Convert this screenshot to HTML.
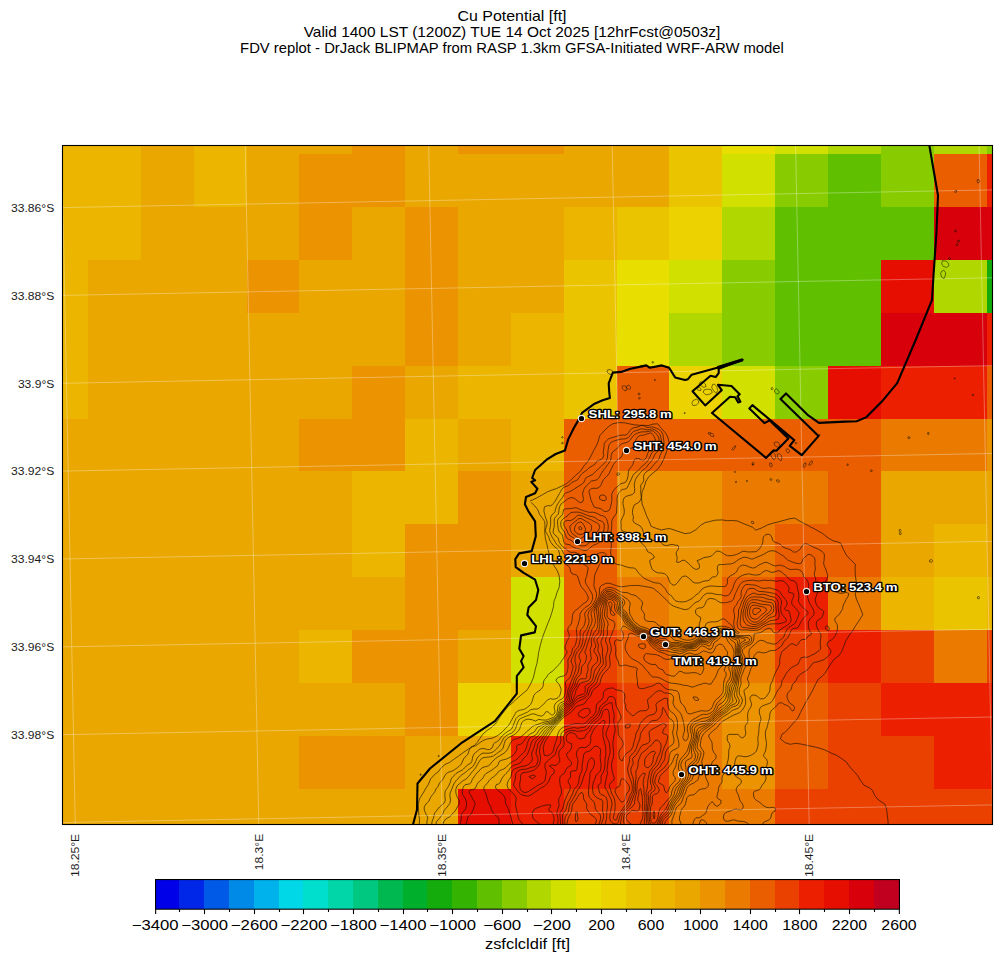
<!DOCTYPE html>
<html lang="en"><head><meta charset="utf-8"><title>Cu Potential [ft]</title>
<style>html,body{margin:0;padding:0;background:#fff}svg{display:block}text{font-family:"Liberation Sans",sans-serif}</style></head><body>
<svg width="1001" height="962" viewBox="0 0 1001 962">
<rect width="1001" height="962" fill="#fff"/>
<g shape-rendering="crispEdges">
<rect x="62.50" y="145.50" width="78.90" height="8.90" fill="#ebb500"/>
<rect x="141.00" y="145.50" width="53.40" height="8.90" fill="#e9a700"/>
<rect x="194.00" y="145.50" width="53.40" height="8.90" fill="#ebb500"/>
<rect x="247.00" y="145.50" width="105.40" height="8.90" fill="#e9a700"/>
<rect x="352.00" y="145.50" width="53.40" height="8.90" fill="#eb9300"/>
<rect x="405.00" y="145.50" width="53.40" height="8.90" fill="#e9a700"/>
<rect x="458.00" y="145.50" width="106.40" height="8.90" fill="#eb9300"/>
<rect x="564.00" y="145.50" width="105.40" height="8.90" fill="#e9a700"/>
<rect x="669.00" y="145.50" width="53.40" height="8.90" fill="#ebc400"/>
<rect x="722.00" y="145.50" width="53.40" height="8.90" fill="#e8de00"/>
<rect x="775.00" y="145.50" width="53.40" height="8.90" fill="#d2e000"/>
<rect x="828.00" y="145.50" width="53.40" height="8.90" fill="#b0d800"/>
<rect x="881.00" y="145.50" width="53.40" height="8.90" fill="#88cc00"/>
<rect x="934.00" y="145.50" width="53.40" height="8.90" fill="#b0d800"/>
<rect x="987.00" y="145.50" width="5.90" height="8.90" fill="#88cc00"/>
<rect x="62.50" y="154.00" width="78.90" height="53.40" fill="#ebb500"/>
<rect x="141.00" y="154.00" width="53.40" height="53.40" fill="#e9a700"/>
<rect x="194.00" y="154.00" width="53.40" height="53.40" fill="#ebb500"/>
<rect x="247.00" y="154.00" width="52.40" height="53.40" fill="#e9a700"/>
<rect x="299.00" y="154.00" width="106.40" height="53.40" fill="#eb9300"/>
<rect x="405.00" y="154.00" width="264.40" height="53.40" fill="#e9a700"/>
<rect x="669.00" y="154.00" width="53.40" height="53.40" fill="#ebc400"/>
<rect x="722.00" y="154.00" width="53.40" height="53.40" fill="#d2e000"/>
<rect x="775.00" y="154.00" width="53.40" height="53.40" fill="#88cc00"/>
<rect x="828.00" y="154.00" width="53.40" height="53.40" fill="#60c000"/>
<rect x="881.00" y="154.00" width="53.40" height="53.40" fill="#88cc00"/>
<rect x="934.00" y="154.00" width="53.40" height="53.40" fill="#eb5e00"/>
<rect x="987.00" y="154.00" width="5.90" height="53.40" fill="#ec2000"/>
<rect x="62.50" y="207.00" width="78.90" height="53.40" fill="#ebb500"/>
<rect x="141.00" y="207.00" width="158.40" height="53.40" fill="#e9a700"/>
<rect x="299.00" y="207.00" width="53.40" height="53.40" fill="#eb9300"/>
<rect x="352.00" y="207.00" width="53.40" height="53.40" fill="#e9a700"/>
<rect x="405.00" y="207.00" width="53.40" height="53.40" fill="#eb9300"/>
<rect x="458.00" y="207.00" width="106.40" height="53.40" fill="#e9a700"/>
<rect x="564.00" y="207.00" width="53.40" height="53.40" fill="#ebb500"/>
<rect x="617.00" y="207.00" width="52.40" height="53.40" fill="#ebc400"/>
<rect x="669.00" y="207.00" width="53.40" height="53.40" fill="#ecd200"/>
<rect x="722.00" y="207.00" width="53.40" height="53.40" fill="#b0d800"/>
<rect x="775.00" y="207.00" width="159.40" height="53.40" fill="#60c000"/>
<rect x="934.00" y="207.00" width="58.90" height="53.40" fill="#d8000a"/>
<rect x="62.50" y="260.00" width="25.90" height="53.40" fill="#ebb500"/>
<rect x="88.00" y="260.00" width="159.40" height="53.40" fill="#e9a700"/>
<rect x="247.00" y="260.00" width="52.40" height="53.40" fill="#eb9300"/>
<rect x="299.00" y="260.00" width="106.40" height="53.40" fill="#e9a700"/>
<rect x="405.00" y="260.00" width="53.40" height="53.40" fill="#eb9300"/>
<rect x="458.00" y="260.00" width="106.40" height="53.40" fill="#e9a700"/>
<rect x="564.00" y="260.00" width="53.40" height="53.40" fill="#ebc400"/>
<rect x="617.00" y="260.00" width="52.40" height="53.40" fill="#e8de00"/>
<rect x="669.00" y="260.00" width="53.40" height="53.40" fill="#d2e000"/>
<rect x="722.00" y="260.00" width="53.40" height="53.40" fill="#88cc00"/>
<rect x="775.00" y="260.00" width="106.40" height="53.40" fill="#60c000"/>
<rect x="881.00" y="260.00" width="53.40" height="53.40" fill="#e60e00"/>
<rect x="934.00" y="260.00" width="53.40" height="53.40" fill="#b0d800"/>
<rect x="987.00" y="260.00" width="5.90" height="53.40" fill="#14ac0c"/>
<rect x="62.50" y="313.00" width="25.90" height="53.40" fill="#ebb500"/>
<rect x="88.00" y="313.00" width="317.40" height="53.40" fill="#e9a700"/>
<rect x="405.00" y="313.00" width="53.40" height="53.40" fill="#eb9300"/>
<rect x="458.00" y="313.00" width="53.40" height="53.40" fill="#e9a700"/>
<rect x="511.00" y="313.00" width="53.40" height="53.40" fill="#ebb500"/>
<rect x="564.00" y="313.00" width="53.40" height="53.40" fill="#ebc400"/>
<rect x="617.00" y="313.00" width="52.40" height="53.40" fill="#e8de00"/>
<rect x="669.00" y="313.00" width="53.40" height="53.40" fill="#b0d800"/>
<rect x="722.00" y="313.00" width="53.40" height="53.40" fill="#88cc00"/>
<rect x="775.00" y="313.00" width="106.40" height="53.40" fill="#60c000"/>
<rect x="881.00" y="313.00" width="106.40" height="53.40" fill="#d8000a"/>
<rect x="987.00" y="313.00" width="5.90" height="53.40" fill="#ec2000"/>
<rect x="62.50" y="366.00" width="25.90" height="53.40" fill="#ebb500"/>
<rect x="88.00" y="366.00" width="264.40" height="53.40" fill="#e9a700"/>
<rect x="352.00" y="366.00" width="53.40" height="53.40" fill="#eb9300"/>
<rect x="405.00" y="366.00" width="53.40" height="53.40" fill="#e9a700"/>
<rect x="458.00" y="366.00" width="106.40" height="53.40" fill="#ebb500"/>
<rect x="564.00" y="366.00" width="53.40" height="53.40" fill="#ebc400"/>
<rect x="617.00" y="366.00" width="52.40" height="53.40" fill="#eb5e00"/>
<rect x="669.00" y="366.00" width="53.40" height="53.40" fill="#ecd200"/>
<rect x="722.00" y="366.00" width="53.40" height="53.40" fill="#d2e000"/>
<rect x="775.00" y="366.00" width="53.40" height="53.40" fill="#88cc00"/>
<rect x="828.00" y="366.00" width="53.40" height="53.40" fill="#e60e00"/>
<rect x="881.00" y="366.00" width="106.40" height="53.40" fill="#ec2000"/>
<rect x="987.00" y="366.00" width="5.90" height="53.40" fill="#eb5e00"/>
<rect x="62.50" y="419.00" width="236.90" height="52.40" fill="#e9a700"/>
<rect x="299.00" y="419.00" width="106.40" height="52.40" fill="#eb9300"/>
<rect x="405.00" y="419.00" width="53.40" height="52.40" fill="#ebb500"/>
<rect x="458.00" y="419.00" width="53.40" height="52.40" fill="#e9a700"/>
<rect x="511.00" y="419.00" width="53.40" height="52.40" fill="#ebb500"/>
<rect x="564.00" y="419.00" width="317.40" height="52.40" fill="#eb5e00"/>
<rect x="881.00" y="419.00" width="106.40" height="52.40" fill="#ea7b00"/>
<rect x="987.00" y="419.00" width="5.90" height="52.40" fill="#eb9300"/>
<rect x="62.50" y="471.00" width="289.90" height="53.40" fill="#e9a700"/>
<rect x="352.00" y="471.00" width="106.40" height="53.40" fill="#ebb500"/>
<rect x="458.00" y="471.00" width="53.40" height="53.40" fill="#eb9300"/>
<rect x="511.00" y="471.00" width="53.40" height="53.40" fill="#e9a700"/>
<rect x="564.00" y="471.00" width="53.40" height="53.40" fill="#eb5e00"/>
<rect x="617.00" y="471.00" width="105.40" height="53.40" fill="#eb9300"/>
<rect x="722.00" y="471.00" width="106.40" height="53.40" fill="#ea7b00"/>
<rect x="828.00" y="471.00" width="53.40" height="53.40" fill="#eb5e00"/>
<rect x="881.00" y="471.00" width="111.90" height="53.40" fill="#e9a700"/>
<rect x="62.50" y="524.00" width="289.90" height="53.40" fill="#e9a700"/>
<rect x="352.00" y="524.00" width="53.40" height="53.40" fill="#ebb500"/>
<rect x="405.00" y="524.00" width="106.40" height="53.40" fill="#eb9300"/>
<rect x="511.00" y="524.00" width="53.40" height="53.40" fill="#e9a700"/>
<rect x="564.00" y="524.00" width="53.40" height="53.40" fill="#eb5e00"/>
<rect x="617.00" y="524.00" width="105.40" height="53.40" fill="#eb9300"/>
<rect x="722.00" y="524.00" width="53.40" height="53.40" fill="#ea7b00"/>
<rect x="775.00" y="524.00" width="106.40" height="53.40" fill="#eb5e00"/>
<rect x="881.00" y="524.00" width="53.40" height="53.40" fill="#e9a700"/>
<rect x="934.00" y="524.00" width="53.40" height="53.40" fill="#ebb500"/>
<rect x="987.00" y="524.00" width="5.90" height="53.40" fill="#e9a700"/>
<rect x="62.50" y="577.00" width="342.90" height="53.40" fill="#e9a700"/>
<rect x="405.00" y="577.00" width="106.40" height="53.40" fill="#eb9300"/>
<rect x="511.00" y="577.00" width="53.40" height="53.40" fill="#d2e000"/>
<rect x="564.00" y="577.00" width="53.40" height="53.40" fill="#eb5e00"/>
<rect x="617.00" y="577.00" width="52.40" height="53.40" fill="#ea7b00"/>
<rect x="669.00" y="577.00" width="53.40" height="53.40" fill="#eb9300"/>
<rect x="722.00" y="577.00" width="53.40" height="53.40" fill="#eb5e00"/>
<rect x="775.00" y="577.00" width="53.40" height="53.40" fill="#ec2000"/>
<rect x="828.00" y="577.00" width="53.40" height="53.40" fill="#ea7b00"/>
<rect x="881.00" y="577.00" width="53.40" height="53.40" fill="#ebb500"/>
<rect x="934.00" y="577.00" width="53.40" height="53.40" fill="#ebc400"/>
<rect x="987.00" y="577.00" width="5.90" height="53.40" fill="#ebb500"/>
<rect x="62.50" y="630.00" width="236.90" height="53.40" fill="#e9a700"/>
<rect x="299.00" y="630.00" width="53.40" height="53.40" fill="#ebb500"/>
<rect x="352.00" y="630.00" width="106.40" height="53.40" fill="#eb9300"/>
<rect x="458.00" y="630.00" width="53.40" height="53.40" fill="#e9a700"/>
<rect x="511.00" y="630.00" width="53.40" height="53.40" fill="#d2e000"/>
<rect x="564.00" y="630.00" width="53.40" height="53.40" fill="#ea4000"/>
<rect x="617.00" y="630.00" width="52.40" height="53.40" fill="#eb5e00"/>
<rect x="669.00" y="630.00" width="106.40" height="53.40" fill="#ea7b00"/>
<rect x="775.00" y="630.00" width="53.40" height="53.40" fill="#ea4000"/>
<rect x="828.00" y="630.00" width="53.40" height="53.40" fill="#ec2000"/>
<rect x="881.00" y="630.00" width="53.40" height="53.40" fill="#ea4000"/>
<rect x="934.00" y="630.00" width="53.40" height="53.40" fill="#ea7b00"/>
<rect x="987.00" y="630.00" width="5.90" height="53.40" fill="#ea4000"/>
<rect x="62.50" y="683.00" width="342.90" height="53.40" fill="#e9a700"/>
<rect x="405.00" y="683.00" width="53.40" height="53.40" fill="#eb9300"/>
<rect x="458.00" y="683.00" width="53.40" height="53.40" fill="#ecd200"/>
<rect x="511.00" y="683.00" width="53.40" height="53.40" fill="#ebc400"/>
<rect x="564.00" y="683.00" width="53.40" height="53.40" fill="#ec2000"/>
<rect x="617.00" y="683.00" width="52.40" height="53.40" fill="#ea4000"/>
<rect x="669.00" y="683.00" width="53.40" height="53.40" fill="#ea7b00"/>
<rect x="722.00" y="683.00" width="53.40" height="53.40" fill="#eb9300"/>
<rect x="775.00" y="683.00" width="53.40" height="53.40" fill="#eb5e00"/>
<rect x="828.00" y="683.00" width="53.40" height="53.40" fill="#ea4000"/>
<rect x="881.00" y="683.00" width="111.90" height="53.40" fill="#ec2000"/>
<rect x="62.50" y="736.00" width="236.90" height="53.40" fill="#e9a700"/>
<rect x="299.00" y="736.00" width="106.40" height="53.40" fill="#eb9300"/>
<rect x="405.00" y="736.00" width="106.40" height="53.40" fill="#e9a700"/>
<rect x="511.00" y="736.00" width="106.40" height="53.40" fill="#ec2000"/>
<rect x="617.00" y="736.00" width="52.40" height="53.40" fill="#ea4000"/>
<rect x="669.00" y="736.00" width="53.40" height="53.40" fill="#ea7b00"/>
<rect x="722.00" y="736.00" width="53.40" height="53.40" fill="#eb9300"/>
<rect x="775.00" y="736.00" width="53.40" height="53.40" fill="#eb5e00"/>
<rect x="828.00" y="736.00" width="106.40" height="53.40" fill="#ea4000"/>
<rect x="934.00" y="736.00" width="58.90" height="53.40" fill="#ec2000"/>
<rect x="62.50" y="789.00" width="395.90" height="35.90" fill="#e9a700"/>
<rect x="458.00" y="789.00" width="53.40" height="35.90" fill="#e60e00"/>
<rect x="511.00" y="789.00" width="53.40" height="35.90" fill="#ec2000"/>
<rect x="564.00" y="789.00" width="105.40" height="35.90" fill="#ea4000"/>
<rect x="669.00" y="789.00" width="106.40" height="35.90" fill="#ea7b00"/>
<rect x="775.00" y="789.00" width="217.90" height="35.90" fill="#ea4000"/>
</g>
<defs><clipPath id="axclip"><rect x="62.5" y="145.5" width="930.0" height="679.0"/></clipPath></defs>
<g clip-path="url(#axclip)" fill="none" stroke="#140c00" stroke-opacity="0.85" stroke-width="0.75" stroke-linejoin="round"><path d="M529.9,501.1 536.4,498.1 542.5,494.7 547.3,491.9 551.6,490.2 556.4,488.6 561.9,486.0 566.2,483.8 570.4,480.5 575.3,475.7 580.5,471.2 584.1,465.8 588.3,460.9 591.4,455.1 594.2,449.6 596.2,446.1 598.0,441.9 599.8,435.7 604.3,430.7 608.2,426.9 612.7,423.8 618.6,422.6 624.7,422.8 629.6,423.9 634.9,424.9 639.3,425.3 644.2,425.3 648.1,425.7 652.8,424.1 657.6,423.8 661.6,428.6 665.5,432.9 667.7,436.8 669.1,442.4 667.8,447.6 666.1,452.9 663.8,458.9 660.9,464.8 657.2,469.7 653.1,472.9 648.9,476.5 645.9,481.3 644.1,487.4 642.1,491.7 641.5,497.6 642.1,504.0 644.3,509.4 646.2,514.9 649.0,520.9 651.2,526.4 656.1,528.3 661.2,530.0 666.2,528.9 669.9,528.6 673.9,529.9 679.4,531.8 684.9,533.6 690.4,532.9 696.0,529.7 700.5,525.4 704.9,522.7 709.3,521.6 715.1,520.2 722.1,519.9 727.3,520.7 732.5,520.5 737.2,520.9 743.2,523.5 749.1,525.8 752.7,527.4 755.8,530.1 761.1,528.2 767.3,525.0 772.4,523.3 778.4,521.9 784.8,520.1 789.8,518.7 794.8,518.1 800.1,521.3 804.7,523.7 808.8,526.0 813.9,528.6 817.9,530.8 822.6,533.5 828.2,538.0 833.5,541.0 837.2,541.7 840.7,543.2 843.3,549.4 846.6,555.5 851.2,560.3 855.3,564.3 855.1,569.4 855.3,575.2 855.9,579.5 856.8,584.3 856.4,589.3 855.2,594.0 856.4,599.1 858.4,603.6 860.4,608.4 862.8,614.7 859.4,620.2 855.5,625.8 852.8,630.5 849.4,634.9 845.9,640.7 843.8,646.2 841.6,651.7 838.7,655.8 834.6,658.8 831.2,663.2 828.3,667.8 824.9,673.4 821.7,676.7 818.3,679.1 815.5,684.3 812.6,690.4 809.5,695.9 806.4,701.1 803.4,706.8 800.5,712.4 797.7,718.6 793.7,722.5 791.0,725.8 788.2,729.2 784.5,732.7 782.0,734.2 780.4,738.8 785.1,742.6 790.0,744.3 796.2,743.3 801.1,744.1 805.7,745.0 811.1,746.2 815.9,747.2 820.1,748.3 824.5,749.8 828.4,751.6 832.2,753.6 836.5,755.2 840.6,757.9 846.3,761.9 850.1,767.2 853.7,771.2 857.4,775.2 860.5,780.4 863.9,785.1 869.1,787.6 872.6,790.5 874.7,795.4 878.5,800.0 884.8,804.1 886.6,809.3 887.3,815.2 888.0,820.8 888.2,825.8"/>
<path d="M419.7,829.8 419.3,823.8 419.5,819.4 418.9,815.3 418.5,809.9 418.3,803.6 419.7,798.5 423.2,792.9 426.1,787.9 428.4,784.3 430.7,778.8 434.6,774.5 438.7,771.4 441.3,767.7 445.2,764.4 449.8,762.3 453.7,759.4 458.6,756.0 463.7,752.2 468.8,748.8 474.1,745.8 477.3,742.2 479.8,738.6 482.7,734.3 486.9,730.6 491.1,727.7 495.2,724.2 497.9,720.1 500.7,715.9 504.4,711.1 507.6,706.9 511.0,704.1 514.8,700.6 518.8,697.0 523.0,693.4 527.4,689.7 530.6,684.0 533.3,677.9 534.5,673.1 535.4,668.7 536.9,663.7 537.9,657.6 538.6,652.7 539.3,649.7 540.3,645.3 541.7,640.2 543.4,634.9 545.6,629.3 547.9,623.3 550.2,617.7 551.8,612.7 553.5,606.5 553.9,601.4 555.7,597.1 556.8,592.9 559.0,587.8 559.8,581.6 559.1,575.4 557.1,570.4 553.4,564.7 550.5,558.4 548.9,553.2 547.7,548.2 546.8,543.9 545.3,538.2 544.7,531.5 545.0,526.2 544.7,521.5 542.4,518.2 539.6,514.4 537.7,509.6 534.8,506.0 531.2,502.5"/>
<path d="M582.0,473.5 584.1,472.0 586.3,470.5 587.8,469.0 589.4,467.5 591.0,466.7 592.5,465.8 594.6,464.5 595.7,463.0 597.0,461.0 599.8,460.0 601.5,459.1 603.0,457.7 603.8,455.5 603.2,452.5 603.7,449.5 604.0,446.5 604.3,443.5 605.3,442.0 606.7,440.5 608.4,439.0 610.5,438.1 612.6,437.5 615.0,436.8 617.5,436.0 619.5,435.4 622.5,435.0 625.5,435.1 627.0,434.5 628.5,432.6 630.0,430.3 631.5,428.9 633.0,428.0 636.0,427.3 637.9,427.0 640.5,425.8 642.0,425.4 643.5,425.7 645.9,427.0 648.0,427.6 650.9,427.0 652.5,426.9 654.0,427.3 656.9,428.5 658.5,429.2 660.0,430.2 661.5,431.6 662.9,434.5 663.1,436.0 663.6,439.0 664.0,442.0 663.9,445.0 663.4,448.0 662.8,449.5 661.5,452.5 660.7,454.0 660.0,455.5 659.2,458.5 658.4,460.0 656.8,461.5 655.2,463.0 654.0,464.5 652.5,466.3 651.0,468.3 649.5,469.7 648.0,470.7 646.0,472.0 644.7,473.5 643.5,476.3 643.5,476.7 643.8,479.5 643.5,481.4 642.0,483.4 640.6,485.5 640.9,488.5 640.6,491.5 641.0,494.5 641.3,497.5 640.5,500.0 639.2,502.0 637.5,503.2 636.0,503.9 634.2,505.0 633.2,508.0 632.7,509.5 632.4,512.5 633.0,515.5 633.5,517.0 633.0,519.5 633.0,520.8 634.5,523.0 636.0,523.8 637.5,524.5 640.3,526.0 641.4,527.5 642.3,529.0 643.4,532.0 643.8,533.5 645.0,536.4 646.2,538.0 647.7,539.5 649.5,540.4 652.5,540.5 655.5,540.1 658.5,540.5 660.0,541.3 661.5,543.1 663.0,544.5 665.6,545.5 666.7,545.5 669.0,545.0 672.0,544.4 675.0,545.1 678.0,545.5 678.8,547.0 678.0,549.9 676.6,551.5 676.1,553.0 676.5,555.1 677.2,557.5 676.9,560.5 676.5,562.0 678.0,562.4 679.6,562.0 682.0,560.5 684.0,560.1 685.5,561.0 687.0,562.2 688.5,563.5 690.2,565.0 691.6,566.5 693.0,568.0 696.0,569.5 699.0,568.5 699.5,566.5 699.0,563.8 697.8,562.0 697.2,560.5 699.0,560.0 701.0,559.0 703.5,557.8 705.0,557.4 708.0,557.0 711.0,556.2 712.5,555.2 714.0,553.7 715.5,551.9 717.0,551.0 719.8,551.5 721.5,552.3 723.0,553.3 724.8,554.5 727.5,555.7 730.5,555.7 733.5,555.3 736.4,554.5 738.0,553.8 739.6,553.0 742.2,551.5 744.0,551.2 745.5,551.5 748.5,552.0 751.5,551.8 754.5,551.8 756.2,551.5 758.3,550.0 759.6,548.5 760.6,547.0 762.0,544.7 762.8,542.5 762.9,539.5 763.5,536.8 765.0,535.2 766.5,534.4 769.5,534.4 771.0,535.6 772.0,538.0 772.5,540.0 774.0,541.8 775.5,542.5 778.5,543.3 780.0,544.1 781.5,545.6 783.0,547.0 786.0,548.4 787.5,548.7 790.5,549.8 792.0,550.9 793.5,552.1 796.5,551.9 798.0,550.8 799.5,549.8 801.0,548.0 802.2,545.5 804.0,544.0 805.5,543.8 807.1,544.0 810.0,545.3 811.5,546.1 813.1,547.0 816.0,548.2 817.5,548.8 819.9,550.0 822.0,551.5 823.5,552.9 824.4,554.5 824.3,557.5 824.0,560.5 823.6,563.5 824.5,566.5 825.3,568.0 826.4,571.0 826.8,572.5 827.7,575.5 827.2,578.5 826.2,580.0 825.4,583.0 826.3,586.0 828.0,587.4 829.5,588.0 831.5,589.0 833.8,590.5 835.5,591.4 837.0,592.2 840.0,593.3 843.0,593.2 846.0,592.3 848.8,593.5 848.0,596.5 847.0,598.0 846.0,599.6 844.7,602.5 843.7,604.0 843.0,606.2 842.7,608.5 841.5,610.8 840.1,613.0 839.1,614.5 837.6,616.0 835.7,617.5 834.6,619.0 835.4,622.0 836.6,623.5 837.3,625.0 837.5,628.0 837.1,631.0 836.7,632.5 835.5,635.3 834.4,637.0 833.1,638.5 831.3,640.0 829.5,641.0 828.0,642.0 827.0,644.5 828.0,646.5 829.5,648.4 830.8,650.5 831.0,652.0 830.5,653.5 829.3,655.0 827.8,656.5 826.1,658.0 824.0,659.5 822.0,660.4 820.3,661.0 817.5,661.8 814.5,662.4 813.0,663.1 811.5,664.9 810.0,667.0 808.7,668.5 807.1,670.0 805.5,671.1 804.0,672.0 802.3,673.0 800.2,674.5 798.5,676.0 797.4,677.5 796.5,679.8 795.0,681.9 793.5,683.3 792.2,685.0 791.9,686.5 791.0,689.5 789.7,691.0 788.2,692.5 787.3,694.0 787.0,697.0 787.5,698.7 788.7,701.5 789.7,703.0 791.9,704.5 793.5,705.5 794.5,707.5 793.8,710.5 792.0,710.8 790.6,709.0 789.8,707.5 788.4,706.0 786.0,705.0 784.3,704.5 782.1,703.0 780.0,702.7 778.5,703.4 777.0,705.3 775.5,707.0 774.0,708.3 772.5,709.4 771.0,711.0 769.9,713.5 769.7,716.5 769.5,718.1 768.7,721.0 768.0,723.2 767.6,725.5 766.7,728.5 765.9,730.0 765.3,733.0 765.5,736.0 765.8,739.0 766.4,742.0 766.5,743.5 766.4,745.0 766.0,748.0 765.5,751.0 764.8,752.5 763.5,755.2 763.5,755.9 765.0,757.8 766.5,759.1 767.4,761.5 767.1,764.5 766.5,766.6 765.9,769.0 765.5,772.0 765.6,775.0 766.1,778.0 765.3,781.0 764.4,782.5 763.1,784.0 761.9,785.5 760.5,788.2 759.0,789.8 757.5,790.4 754.5,791.1 753.4,793.0 753.6,796.0 754.5,798.5 756.0,800.1 757.5,801.0 759.2,802.0 761.1,803.5 762.7,805.0 764.7,806.5 766.5,807.3 769.5,807.8 772.5,807.3 775.0,808.0 775.6,809.5 775.1,811.0 772.5,812.4 771.6,814.0 771.0,817.0 770.4,818.5 768.9,820.0 766.5,821.0 765.0,821.5 763.0,823.0 762.5,826.0 763.0,829.0 M428.0,830.5 427.7,827.5 427.4,826.0 426.8,823.0 427.2,820.0 427.6,818.5 427.5,816.8 426.0,814.2 425.3,812.5 424.5,810.7 424.1,808.0 424.5,806.4 426.0,803.9 427.5,802.6 429.0,801.0 429.9,799.0 430.5,797.5 432.0,795.3 433.5,793.6 434.9,791.5 435.5,790.0 436.5,788.1 438.0,786.7 439.0,784.0 440.0,782.5 441.5,781.0 442.7,779.5 444.0,777.2 445.3,775.0 446.4,773.5 448.5,772.2 450.0,771.8 453.0,770.7 454.5,769.7 456.0,768.7 457.6,767.5 459.5,766.0 460.9,764.5 462.0,762.5 463.2,760.0 463.8,758.5 465.1,757.0 466.8,755.5 468.0,754.0 468.9,751.0 469.5,749.2 471.0,747.0 472.5,746.3 475.5,745.9 477.0,744.8 478.7,743.5 480.8,742.0 483.0,740.6 484.5,739.9 487.3,739.0 489.0,738.7 492.0,738.2 493.8,737.5 496.5,736.2 498.0,735.3 499.5,734.2 501.0,733.0 502.7,731.5 504.1,730.0 505.5,728.5 507.0,727.0 508.5,725.5 510.0,723.2 511.0,721.0 511.9,719.5 513.0,717.7 514.5,715.0 515.3,713.5 516.2,712.0 518.8,710.5 520.5,710.1 523.5,709.5 525.0,709.0 527.1,707.5 529.0,706.0 530.5,704.5 531.4,703.0 532.5,700.3 532.9,698.5 533.8,695.5 534.8,694.0 536.5,692.5 538.5,691.2 540.0,690.1 541.5,688.9 543.0,686.6 543.3,685.0 543.4,682.0 544.5,679.5 546.0,678.0 547.3,676.0 548.2,674.5 549.7,673.0 552.0,671.5 553.5,670.3 555.0,668.7 556.5,667.0 557.9,665.5 559.5,664.1 560.7,662.5 561.4,661.0 562.6,659.5 564.0,657.3 565.5,655.1 566.7,653.5 567.1,652.0 566.4,650.5 565.2,649.0 565.1,646.0 565.9,644.5 566.7,641.5 567.5,640.0 568.6,638.5 569.4,635.5 568.6,632.5 567.8,631.0 567.9,628.0 569.0,626.5 570.4,625.0 571.5,623.2 572.1,620.5 572.3,617.5 572.7,614.5 573.3,613.0 574.5,611.3 576.0,610.0 578.1,608.5 579.8,607.0 581.2,605.5 582.9,604.0 585.0,602.7 586.5,601.7 588.0,599.6 588.2,598.0 588.0,596.5 586.5,593.5 585.6,592.0 584.5,590.5 583.2,589.0 581.8,587.5 580.5,585.3 579.7,583.0 579.0,580.8 578.3,578.5 577.5,576.0 576.0,574.9 573.0,574.1 571.5,573.3 570.4,571.0 570.0,568.2 569.0,566.5 567.0,565.2 565.5,564.0 564.0,562.2 562.7,560.5 561.5,559.0 560.5,557.5 559.5,554.8 559.3,553.0 558.5,550.0 556.9,548.5 555.0,547.1 553.5,545.7 552.1,544.0 551.1,542.5 550.1,541.0 549.0,538.2 548.5,536.5 547.5,534.7 546.0,532.4 545.4,530.5 546.0,527.7 546.6,526.0 547.3,523.0 546.6,520.0 545.8,518.5 545.0,515.5 544.5,513.5 543.9,511.0 544.2,508.0 544.9,506.5 547.5,505.7 550.5,505.8 552.0,504.9 553.5,503.4 555.0,501.3 556.4,499.0 557.2,497.5 558.0,496.0 559.5,493.4 560.6,491.5 561.5,490.0 562.5,488.5 564.2,487.0 567.0,486.2 568.5,485.5 570.3,484.0 571.9,482.5 574.5,481.2 576.0,480.7 577.7,479.5 579.0,477.6 580.5,475.2 581.7,473.8 M794.0,830.5 794.9,829.0 795.0,828.9 796.5,828.6 797.1,829.0 798.0,830.5 798.0,830.5 M820.0,830.5 820.2,827.5 822.0,826.6 825.0,826.3 826.5,825.5 829.5,824.8 832.5,825.2 834.0,826.0 835.5,828.2 836.1,830.5 M825.7,626.5 826.5,625.7 828.0,626.2 828.3,626.5 829.1,628.0 829.3,629.5 828.0,630.7 826.5,630.1 826.0,629.5 825.6,628.0 825.7,626.5 M432.4,830.5 432.1,827.5 431.9,826.0 431.8,823.0 432.1,821.5 433.2,818.5 433.7,817.0 434.4,814.0 435.0,812.5 436.5,810.7 438.0,808.8 439.5,807.0 441.0,805.7 442.5,804.5 444.0,803.2 445.3,800.5 445.1,797.5 444.8,794.5 445.2,791.5 445.9,790.0 447.1,788.5 448.5,786.2 449.5,784.0 450.2,782.5 451.0,779.5 451.8,778.0 453.3,776.5 454.5,775.0 456.0,773.5 458.5,772.0 460.5,771.0 462.0,770.2 463.5,769.0 465.0,767.4 466.5,765.8 468.4,764.5 470.9,763.0 471.8,761.5 472.4,758.5 472.6,757.0 474.0,754.0 475.5,752.5 477.0,751.4 478.5,750.1 480.0,749.0 483.0,748.4 486.0,749.1 487.5,749.6 489.7,749.5 492.0,748.0 492.7,746.5 493.5,743.9 495.0,742.6 496.5,741.9 498.5,740.5 499.8,739.0 501.0,737.3 502.5,735.6 504.0,734.3 505.5,733.0 507.7,731.5 510.0,730.2 511.5,729.0 512.7,727.0 513.2,725.5 514.4,722.5 514.9,721.0 516.0,718.6 517.5,716.9 519.0,715.8 521.0,715.0 523.5,713.9 525.0,713.2 527.6,712.0 529.5,710.6 531.0,709.6 534.0,709.0 537.0,709.1 538.5,708.5 540.0,707.4 541.5,706.0 543.3,704.5 544.7,703.0 546.0,701.4 547.5,699.9 550.5,698.6 553.5,699.3 556.5,698.5 558.0,697.6 559.5,696.0 560.3,694.0 561.0,691.0 561.1,689.5 560.7,688.0 559.5,685.1 558.4,683.5 556.9,682.0 556.1,680.5 556.5,679.0 558.4,677.5 561.0,676.5 563.8,676.0 565.5,675.0 566.8,673.0 567.2,671.5 567.9,668.5 568.1,665.5 567.9,662.5 568.0,659.5 568.8,658.0 570.0,656.4 571.5,653.6 571.8,652.0 572.4,649.0 573.4,647.5 574.9,646.0 576.0,643.1 576.2,641.5 576.9,638.5 576.9,635.5 576.5,632.5 576.4,629.5 577.3,626.5 578.0,625.0 578.7,622.0 579.2,620.5 579.9,617.5 579.9,614.5 580.5,612.8 582.0,610.8 583.5,609.1 585.0,607.6 586.5,606.6 588.5,605.5 590.2,604.0 591.2,602.5 592.5,599.6 592.7,598.0 592.5,595.6 591.9,593.5 591.0,592.0 589.5,589.7 588.4,587.5 587.4,586.0 586.3,584.5 585.2,581.5 585.7,578.5 586.5,576.6 587.1,574.0 587.6,571.0 588.0,569.5 588.0,567.6 586.5,565.9 585.0,565.0 582.5,563.5 580.5,562.4 579.0,561.2 577.5,559.8 576.0,558.7 573.0,557.7 570.0,558.0 568.4,557.5 566.1,556.0 564.3,554.5 563.4,553.0 562.5,551.0 561.0,548.5 559.5,547.1 558.0,545.8 556.5,544.1 555.5,542.5 554.7,541.0 553.5,539.2 552.0,537.0 551.1,535.0 550.4,533.5 549.6,530.5 550.1,527.5 550.5,525.3 550.7,523.0 550.6,520.0 550.7,517.0 552.0,514.7 553.5,513.5 555.0,511.8 555.4,509.5 556.4,506.5 557.1,505.0 558.0,503.4 559.5,501.2 561.0,499.4 562.5,497.5 563.3,496.0 564.1,494.5 565.5,493.0 568.5,492.0 570.1,491.5 572.7,490.0 574.5,488.8 576.0,487.9 577.5,486.9 579.8,485.5 582.0,484.1 583.5,482.8 584.6,481.0 585.0,479.4 586.5,477.3 588.4,476.5 591.0,475.3 592.5,474.5 594.0,473.2 595.5,471.5 597.0,470.1 598.5,468.8 600.0,467.4 601.6,466.0 603.1,464.5 604.6,463.0 606.0,461.3 607.2,458.5 607.5,457.0 607.7,454.0 608.0,451.0 608.4,448.0 609.0,445.0 609.9,443.5 611.7,442.0 613.5,441.2 615.5,440.5 618.0,439.8 621.0,439.1 622.5,439.0 625.5,438.8 628.3,437.5 629.7,436.0 630.8,434.5 631.8,433.0 633.4,431.5 636.0,430.6 638.0,430.0 640.5,428.9 643.5,428.9 646.5,429.9 649.5,429.5 652.5,428.9 655.0,430.0 657.0,431.3 658.5,432.5 660.0,434.5 660.5,436.0 661.2,439.0 661.5,442.0 661.5,442.2 661.4,445.0 660.6,448.0 659.7,449.5 658.4,451.0 656.6,452.5 655.1,454.0 654.0,456.3 653.0,458.5 652.1,460.0 651.0,461.6 649.5,463.3 648.0,465.0 646.5,467.1 645.0,468.6 643.5,469.6 642.0,470.9 640.5,472.5 639.0,474.3 637.5,476.3 636.2,478.0 635.5,479.5 634.6,482.5 634.3,484.0 634.4,487.0 634.7,488.5 634.6,491.5 634.1,493.0 632.3,494.5 630.0,495.2 627.2,496.0 625.5,496.7 624.0,498.1 623.2,500.5 622.9,503.5 623.5,506.5 624.0,508.4 624.3,511.0 624.1,514.0 623.5,515.5 622.5,517.5 621.3,520.0 620.8,521.5 621.0,524.0 621.1,526.0 621.0,527.8 621.0,529.1 622.5,531.0 625.5,531.9 627.0,532.6 629.6,533.5 631.5,534.1 633.2,535.0 635.0,536.5 636.7,538.0 638.3,539.5 639.7,541.0 641.0,542.5 642.5,544.0 644.0,545.5 645.4,547.0 646.5,549.0 647.5,551.5 649.5,552.7 651.0,553.2 652.6,554.5 654.0,556.2 654.0,558.0 652.1,559.0 649.7,560.5 650.2,563.5 651.0,566.1 651.6,568.0 652.5,569.7 654.1,571.0 656.9,572.5 658.5,572.9 661.5,573.0 664.5,573.7 666.0,574.7 667.5,576.5 668.4,578.5 669.0,580.2 670.4,583.0 671.9,584.5 673.5,585.2 675.6,584.5 677.3,583.0 678.4,581.5 679.5,580.0 681.0,578.0 682.5,576.6 685.5,575.9 687.3,577.0 689.3,578.5 691.0,580.0 692.2,581.5 694.5,582.8 696.0,583.0 698.2,583.0 700.5,582.5 702.6,581.5 705.0,580.9 708.0,580.7 709.6,580.0 711.0,578.1 712.5,577.0 715.5,576.7 717.0,575.4 718.1,572.5 717.4,569.5 717.5,566.5 718.5,564.8 721.5,564.5 724.5,564.5 727.5,564.1 730.5,563.9 732.6,563.5 735.0,562.3 736.5,561.0 738.0,560.0 739.7,559.0 742.5,557.6 744.0,557.2 747.0,557.5 748.5,558.0 751.3,559.0 752.4,559.0 754.5,558.3 756.1,557.5 759.0,556.3 760.5,555.7 763.4,554.5 765.0,553.5 766.5,552.5 768.7,551.5 771.0,550.8 774.0,550.8 776.0,551.5 778.5,553.0 780.0,553.9 781.5,554.8 783.5,556.0 785.2,557.5 786.5,559.0 788.4,560.5 790.5,561.2 792.3,562.0 795.0,562.9 797.6,563.5 799.5,563.7 801.0,563.3 802.5,560.8 803.0,559.0 804.3,557.5 806.2,556.0 808.0,554.5 810.0,554.4 811.5,555.3 813.0,556.4 814.5,557.7 815.1,560.5 814.8,563.5 815.2,566.5 815.3,569.5 814.5,572.1 814.2,574.0 814.5,575.5 815.6,578.5 815.9,581.5 816.0,584.5 816.2,586.0 817.1,589.0 817.6,590.5 817.5,592.3 816.7,595.0 816.0,596.8 815.2,599.5 815.7,602.5 816.1,604.0 817.5,606.4 819.0,607.9 820.5,609.1 822.3,610.0 823.7,611.5 823.5,613.2 822.6,616.0 821.9,617.5 820.0,619.0 817.5,620.4 816.5,622.0 816.2,625.0 817.3,628.0 818.0,629.5 819.0,631.3 820.5,633.7 821.0,635.5 820.7,638.5 820.4,640.0 820.1,643.0 820.4,646.0 820.7,647.5 820.5,649.1 819.0,650.8 817.2,652.0 815.2,653.5 813.0,654.5 811.5,655.2 809.3,656.5 807.0,657.3 804.0,657.0 801.0,657.9 800.0,659.5 799.5,661.3 798.1,664.0 796.5,664.9 795.0,665.7 792.7,667.0 790.5,668.4 789.1,670.0 787.9,671.5 786.4,673.0 785.6,674.5 784.5,676.9 783.2,679.0 782.1,680.5 781.5,683.4 781.4,685.0 780.0,687.8 778.5,689.2 777.3,691.0 776.6,692.5 775.5,694.8 774.4,697.0 773.7,698.5 772.5,700.6 771.0,702.4 769.5,703.4 766.5,704.4 765.0,704.9 762.4,706.0 760.5,707.4 759.6,709.0 759.2,712.0 759.9,715.0 760.5,716.5 761.0,719.5 760.5,721.0 759.5,724.0 759.1,727.0 759.0,728.5 758.8,731.5 758.5,734.5 757.8,737.5 757.9,740.5 758.2,743.5 757.8,746.5 757.4,748.0 756.4,751.0 755.2,752.5 753.1,754.0 751.5,754.9 750.0,755.7 747.0,756.6 744.0,756.7 741.0,756.0 738.0,755.9 736.5,757.0 735.4,760.0 735.0,761.6 734.5,764.5 734.4,767.5 734.0,770.5 734.1,773.5 735.0,775.3 736.5,777.1 738.3,778.0 740.7,779.5 741.5,781.0 741.0,783.4 739.5,784.7 738.0,785.8 736.5,788.1 736.1,790.0 736.5,791.5 738.0,794.4 738.7,796.0 739.4,799.0 740.0,800.5 741.0,802.0 742.5,804.0 743.3,806.5 742.5,808.8 741.0,809.8 738.0,809.6 736.5,809.1 733.7,809.5 732.0,810.3 730.4,811.0 727.5,811.9 726.0,812.5 724.1,814.0 723.3,817.0 724.1,820.0 726.0,821.3 729.0,821.1 732.0,820.1 733.5,819.9 735.0,820.1 738.0,821.1 741.0,821.3 743.3,821.5 745.5,822.1 747.3,823.0 749.1,824.5 750.4,826.0 752.1,827.5 753.9,829.0 754.7,830.5 M437.0,830.5 436.6,827.5 436.4,826.0 436.1,823.0 436.6,821.5 438.0,819.9 439.5,818.3 441.0,816.3 442.5,814.5 443.4,812.5 444.0,810.7 445.5,808.8 447.0,807.1 448.5,805.2 449.7,803.5 450.3,802.0 450.4,799.0 450.0,796.6 449.9,794.5 450.1,793.0 451.4,790.0 452.1,788.5 453.0,785.9 453.8,784.0 454.7,782.5 456.0,780.8 457.5,779.3 459.0,777.5 460.5,775.8 462.0,774.7 463.9,773.5 465.9,772.0 467.5,770.5 469.3,769.0 471.0,768.0 472.5,766.8 474.0,764.8 475.0,763.0 475.7,761.5 476.9,758.5 477.9,757.0 479.4,755.5 481.1,754.0 483.0,753.1 486.0,753.2 489.0,753.2 491.8,752.5 493.5,751.6 495.0,750.4 496.5,749.0 498.0,747.3 499.5,745.6 500.8,743.5 501.6,742.0 502.5,740.2 504.0,737.8 505.5,736.3 507.0,735.2 508.5,734.4 511.5,733.1 513.0,732.0 514.5,730.3 515.5,728.5 516.1,727.0 517.1,724.0 517.6,722.5 519.0,719.6 520.5,718.6 522.0,717.9 525.0,716.6 526.5,716.0 529.3,715.0 531.0,714.2 534.0,713.8 537.0,715.0 538.5,715.5 541.5,716.2 543.6,715.0 544.6,713.5 546.0,711.6 548.2,712.0 549.8,713.5 551.7,715.0 552.6,715.0 554.5,713.5 555.0,712.0 554.9,710.5 554.1,707.5 554.8,704.5 555.9,703.0 557.5,701.5 559.5,700.2 561.0,699.5 562.6,698.5 564.0,697.0 565.0,694.0 565.5,691.1 565.7,689.5 565.9,686.5 565.4,685.0 565.3,682.0 567.0,680.5 568.5,679.0 569.9,677.5 570.7,676.0 571.5,673.5 571.9,671.5 572.8,668.5 573.0,667.0 572.8,665.5 571.5,662.5 571.1,661.0 571.5,658.9 572.9,656.5 573.6,655.0 574.4,652.0 575.1,650.5 576.2,649.0 577.7,647.5 579.0,645.3 579.5,643.0 580.1,640.0 580.4,637.0 580.0,634.0 580.3,631.0 581.1,629.5 582.4,628.0 583.7,626.5 584.8,623.5 585.1,622.0 585.5,619.0 585.0,616.8 584.6,614.5 585.0,613.0 586.5,610.7 588.0,609.1 589.5,608.0 591.0,607.0 592.5,605.1 594.0,602.6 594.9,601.0 595.6,599.5 596.5,596.5 596.5,593.5 595.5,590.5 594.9,589.0 594.0,586.2 593.9,584.5 594.1,583.0 594.3,580.0 594.4,577.0 595.1,574.0 595.8,572.5 597.0,570.0 597.9,568.0 598.5,566.5 600.0,563.6 601.4,562.0 602.8,560.5 604.0,559.0 605.1,557.5 606.0,555.3 606.0,554.3 604.5,552.8 601.5,552.6 599.5,553.0 597.0,554.0 595.5,555.1 593.7,556.0 591.0,556.2 588.0,556.6 585.0,556.8 582.3,556.0 580.5,554.9 579.0,554.0 577.0,553.0 574.5,552.2 571.5,552.5 568.7,551.5 567.3,550.0 565.5,548.6 564.0,547.7 562.5,546.4 561.0,544.9 559.5,542.6 558.9,541.0 558.2,538.0 556.9,536.5 555.0,535.3 553.6,533.5 553.1,532.0 553.5,529.0 554.0,527.5 554.4,524.5 554.1,521.5 554.4,518.5 555.4,517.0 557.1,515.5 558.4,514.0 558.9,511.0 559.2,508.0 559.7,506.5 561.0,504.1 562.5,502.8 564.0,501.8 565.6,500.5 567.6,499.0 570.0,497.8 573.0,497.7 575.3,499.0 577.1,500.5 578.9,502.0 580.5,502.7 582.5,502.0 583.5,499.3 583.5,498.6 582.9,496.0 582.6,493.0 583.5,490.5 584.3,488.5 585.3,487.0 586.7,485.5 588.4,484.0 589.8,482.5 591.4,481.0 594.0,480.6 597.0,479.7 598.5,478.2 599.7,476.5 600.5,475.0 601.5,473.2 603.0,470.8 604.4,469.0 605.6,467.5 606.7,466.0 607.8,464.5 609.0,462.9 610.5,460.4 611.0,458.5 611.2,455.5 612.0,453.0 613.5,451.1 615.0,450.1 616.5,449.1 618.0,447.4 619.5,445.5 621.0,444.2 622.5,443.5 625.5,442.8 627.9,442.0 629.7,440.5 630.9,439.0 632.0,437.5 633.1,436.0 634.8,434.5 637.5,433.1 639.0,432.5 642.0,431.8 645.0,431.9 648.0,431.6 649.5,431.2 652.5,430.8 654.0,431.7 655.5,433.3 657.0,434.7 658.5,437.1 659.0,439.0 659.0,442.0 658.5,445.0 657.9,446.5 656.8,448.0 655.2,449.5 653.6,451.0 652.2,452.5 651.0,454.4 649.8,457.0 649.1,458.5 648.0,460.5 646.5,462.4 645.0,463.8 643.5,465.1 642.0,466.3 640.5,467.7 639.0,469.6 637.5,471.1 636.0,472.3 634.5,473.5 633.0,475.3 631.8,478.0 631.2,479.5 630.0,481.9 629.0,484.0 628.3,485.5 627.0,488.1 625.5,488.9 622.5,489.5 621.0,490.4 619.5,491.9 618.0,494.5 617.5,496.0 617.0,499.0 617.2,502.0 617.1,505.0 616.8,508.0 616.7,511.0 616.5,513.2 615.0,515.4 613.8,517.0 612.8,518.5 612.0,520.4 611.7,523.0 611.8,526.0 611.4,529.0 611.1,532.0 610.7,535.0 610.6,538.0 610.9,541.0 611.3,544.0 611.2,547.0 610.9,550.0 610.6,553.0 611.2,556.0 612.1,557.5 613.2,560.5 613.8,562.0 615.0,563.6 618.0,564.6 621.0,565.0 622.5,565.5 625.1,566.5 627.0,567.0 630.0,567.8 633.0,567.9 634.5,568.3 636.3,569.5 637.5,571.5 639.0,573.5 640.5,575.0 642.0,576.4 643.5,577.7 645.0,578.8 647.8,580.0 649.5,580.7 651.1,581.5 654.0,582.6 656.4,583.0 658.5,583.1 661.5,584.5 662.7,586.0 664.2,587.5 665.5,589.0 666.2,590.5 667.5,592.9 669.0,594.2 670.5,595.2 672.1,596.5 673.5,598.7 675.0,600.4 676.5,601.2 679.5,601.8 682.5,601.9 685.5,601.6 687.1,601.0 690.0,599.6 691.5,598.8 693.0,597.7 694.5,596.2 696.0,594.9 698.2,593.5 699.8,592.0 700.8,590.5 702.0,589.0 704.6,587.5 706.5,586.9 709.5,586.1 711.0,586.0 712.5,586.0 715.5,586.3 718.5,586.5 721.5,586.5 724.5,586.6 726.0,586.0 727.5,583.0 727.3,580.0 727.7,578.5 729.0,576.9 730.8,575.5 733.5,574.2 735.0,573.3 736.5,571.8 737.6,569.5 738.3,568.0 739.7,566.5 742.5,565.1 745.5,565.4 748.3,566.5 750.0,567.3 752.6,568.0 753.5,568.0 756.0,567.1 757.5,565.9 759.0,565.0 762.0,563.6 763.5,562.8 766.5,562.3 769.5,563.5 771.0,564.3 772.5,565.2 775.5,566.0 778.5,565.2 781.5,565.3 784.5,566.5 786.0,567.4 787.5,568.4 790.2,569.5 791.8,569.5 793.5,569.3 796.5,569.3 798.3,569.5 801.0,570.8 802.4,572.5 803.0,574.0 803.8,577.0 805.5,578.5 807.0,580.0 807.8,581.5 808.5,584.0 808.7,586.0 808.5,588.0 807.0,590.5 806.3,592.0 806.8,595.0 807.5,596.5 808.3,599.5 808.7,601.0 810.0,604.0 811.0,605.5 811.9,607.0 813.0,609.0 814.0,611.5 813.9,614.5 813.0,616.0 811.4,617.5 809.9,619.0 808.5,621.8 808.3,623.5 808.4,626.5 808.6,628.0 809.8,631.0 810.9,632.5 811.7,634.0 810.0,635.4 808.5,635.7 807.0,638.0 805.5,639.4 802.5,639.5 801.0,640.0 799.5,641.5 798.0,644.2 796.5,645.7 794.3,644.5 792.0,643.5 790.2,644.5 788.3,646.0 786.9,647.5 785.0,649.0 783.0,650.5 781.8,652.0 781.2,653.5 780.4,656.5 779.9,658.0 779.7,661.0 779.7,664.0 778.5,666.7 777.6,668.5 776.9,670.0 775.5,672.5 774.6,674.5 774.0,676.3 773.0,679.0 772.5,680.9 771.1,683.5 770.3,685.0 770.1,688.0 769.8,691.0 768.9,692.5 768.0,694.2 766.5,696.5 765.0,697.9 763.5,698.7 760.5,698.9 759.0,697.8 757.5,696.4 755.9,695.5 753.0,694.9 751.5,695.5 750.0,697.8 750.0,699.5 750.9,701.5 751.5,703.7 751.5,704.8 750.6,707.5 749.5,709.0 748.5,710.8 747.8,713.5 747.5,716.5 747.9,719.5 747.6,722.5 746.5,724.0 745.4,725.5 745.0,728.5 745.5,730.6 745.8,733.0 745.5,734.9 744.0,737.0 742.5,737.9 740.8,737.5 739.5,735.8 738.0,734.4 735.0,734.4 732.0,734.4 729.0,734.3 727.5,735.4 727.1,737.5 727.5,740.4 728.2,742.0 729.4,743.5 730.1,746.5 729.0,749.5 728.7,751.0 728.7,754.0 728.5,757.0 728.1,760.0 727.5,762.0 726.9,764.5 726.4,767.5 726.0,769.4 725.2,772.0 724.3,773.5 722.9,775.0 721.9,778.0 722.2,781.0 721.5,783.0 720.0,784.8 718.8,787.0 718.5,788.5 718.2,791.5 717.4,794.5 717.0,796.2 717.0,797.8 718.6,799.0 721.1,800.5 720.7,803.5 719.3,805.0 717.0,806.4 714.6,805.0 713.8,803.5 712.5,801.7 711.0,802.6 709.5,804.2 708.0,806.3 707.3,808.0 706.5,811.0 706.0,812.5 704.9,814.0 702.5,815.5 700.9,817.0 699.0,817.9 696.0,817.7 694.5,819.4 693.6,821.5 693.0,823.0 693.0,825.4 694.5,826.8 697.5,826.5 699.0,824.8 699.6,823.0 700.5,820.2 702.0,819.7 703.5,820.2 705.3,821.5 706.5,823.1 706.8,826.0 706.4,827.5 705.2,830.5 M650.2,433.0 651.4,433.0 652.8,434.5 654.0,436.5 655.3,439.0 654.5,442.0 653.8,443.5 652.5,446.0 651.2,448.0 650.0,449.5 648.9,451.0 648.0,452.8 647.0,455.5 646.5,457.2 645.0,459.4 643.5,460.1 642.0,460.0 639.0,458.7 637.5,458.4 636.0,458.5 634.2,460.0 633.3,463.0 632.9,464.5 631.5,466.6 630.0,468.2 628.6,470.5 628.3,472.0 628.2,475.0 627.6,478.0 627.0,479.9 625.5,482.2 624.0,482.8 621.0,483.7 619.5,484.7 618.0,486.1 616.5,487.3 615.0,488.5 613.5,490.6 612.2,493.0 611.7,494.5 611.8,497.5 611.9,500.5 611.3,503.5 610.6,506.5 610.4,508.0 609.0,510.4 607.5,511.2 604.5,511.5 603.0,510.6 601.5,509.2 598.5,508.0 597.0,508.0 594.0,506.8 593.2,505.0 592.5,503.4 591.1,500.5 590.7,499.0 590.1,496.0 589.5,494.2 589.0,491.5 589.5,489.9 591.7,488.5 594.0,488.2 597.0,488.4 599.6,487.0 600.7,485.5 601.5,483.8 602.6,481.0 603.7,479.5 605.0,478.0 606.4,476.5 608.1,475.0 609.2,473.5 610.4,470.5 611.2,469.0 612.0,467.5 613.4,464.5 614.6,463.0 615.9,461.5 617.2,460.0 619.2,458.5 621.0,457.3 622.1,455.5 622.5,453.5 623.4,451.0 625.0,449.5 627.0,448.6 630.0,448.4 632.0,448.0 633.2,446.5 634.0,443.5 634.8,442.0 636.0,439.7 637.2,437.5 639.0,436.0 640.5,435.4 643.5,435.1 645.6,434.5 648.0,433.7 650.2,433.0 M574.1,508.0 576.0,507.7 577.5,508.3 580.2,509.5 582.0,510.1 584.3,511.0 586.5,511.6 589.5,512.4 592.5,512.2 594.7,512.5 597.0,513.4 598.5,514.3 601.1,515.5 603.0,515.8 605.1,517.0 606.3,518.5 607.4,521.5 607.7,523.0 608.3,526.0 608.1,529.0 607.8,532.0 607.5,533.5 606.0,536.5 604.6,538.0 603.0,539.2 601.5,540.3 600.0,541.4 598.5,542.7 596.6,544.0 594.0,545.0 592.5,545.8 591.0,547.0 589.5,548.5 586.9,550.0 585.0,550.4 582.9,550.0 580.5,549.3 577.5,548.5 576.0,548.2 573.0,547.0 571.5,545.9 570.0,544.8 567.0,544.2 565.5,543.9 563.9,542.5 563.3,539.5 562.8,536.5 562.3,535.0 561.0,533.3 559.3,532.0 558.2,529.0 558.0,527.1 557.7,524.5 557.5,521.5 558.0,519.1 559.5,517.5 561.0,516.3 562.5,514.4 563.0,512.5 563.7,509.5 565.5,508.8 568.5,508.7 571.5,508.4 574.1,508.0 M576.0,812.0 575.6,814.0 575.4,817.0 575.4,820.0 576.0,821.9 577.5,820.7 578.1,818.5 577.5,816.0 577.3,814.0 577.6,812.5 576.0,812.0 M441.4,830.5 441.8,827.5 442.5,825.3 443.3,823.0 444.0,821.4 445.5,819.3 447.0,818.3 449.4,817.0 451.0,815.5 452.2,814.0 453.7,812.5 455.0,811.0 456.0,809.5 457.5,806.5 458.5,805.0 459.2,803.5 459.2,800.5 458.3,799.0 457.4,797.5 456.3,794.5 455.9,793.0 455.8,790.0 456.1,788.5 457.4,785.5 459.0,784.1 460.5,782.9 462.0,781.6 463.5,780.4 465.3,779.5 467.2,778.0 468.5,776.5 469.8,775.0 471.0,773.3 472.5,771.4 474.0,769.9 475.5,767.9 476.5,766.0 477.4,764.5 478.5,762.7 480.0,760.4 481.5,758.6 483.0,757.8 486.0,757.3 488.8,757.0 490.5,756.9 493.5,755.9 495.0,754.9 496.5,753.7 498.1,752.5 500.4,751.0 502.1,749.5 503.1,748.0 503.9,745.0 504.3,743.5 505.3,740.5 506.5,739.0 508.4,737.5 510.0,736.7 511.6,736.0 514.5,734.5 516.0,733.2 517.5,731.8 519.0,730.0 519.8,728.5 520.5,726.3 521.3,724.0 522.0,722.4 523.5,720.7 526.1,719.5 528.0,719.2 531.0,719.5 532.5,719.9 535.4,721.0 535.6,721.0 538.3,719.5 540.0,719.5 541.5,719.9 544.5,720.1 547.5,719.9 549.0,719.1 551.8,718.0 553.5,717.3 555.0,716.2 556.5,714.2 557.2,712.0 557.6,709.0 558.0,706.1 558.8,704.5 560.5,703.0 562.5,702.0 564.0,701.2 565.5,699.8 566.6,697.0 567.0,695.4 567.4,692.5 568.0,689.5 568.7,688.0 570.0,685.1 570.4,683.5 571.5,680.6 572.2,679.0 573.0,677.3 574.2,674.5 574.6,673.0 575.6,670.0 576.0,667.7 576.0,665.9 575.8,664.0 574.9,661.0 575.0,658.0 575.8,655.0 576.3,653.5 577.5,651.3 579.0,649.7 580.5,648.0 581.5,646.0 582.0,644.5 582.7,641.5 583.1,638.5 583.0,635.5 583.5,633.1 585.0,631.3 586.3,629.5 587.1,628.0 588.0,625.7 588.7,623.5 589.1,620.5 588.4,617.5 588.0,616.0 588.0,614.3 588.9,611.5 590.1,610.0 592.0,608.5 593.2,607.0 594.1,605.5 595.5,603.0 596.7,601.0 597.5,599.5 598.5,597.7 599.2,595.0 599.4,592.0 599.6,589.0 600.0,587.1 601.5,585.4 603.7,584.5 606.0,583.2 609.0,583.2 612.0,584.1 613.5,584.6 616.5,585.7 618.0,586.2 621.0,586.8 624.0,586.5 627.0,586.1 628.5,585.8 631.5,585.5 634.5,585.5 637.5,585.4 640.5,585.7 642.0,586.0 645.0,586.5 648.0,587.1 650.8,587.5 652.5,588.0 654.3,589.0 656.0,590.5 658.1,592.0 659.7,593.5 661.1,595.0 662.7,596.5 664.4,598.0 666.0,599.4 667.5,601.0 668.7,602.5 670.2,604.0 672.0,605.2 673.5,606.1 676.0,607.0 678.0,607.7 680.8,608.5 682.5,609.1 685.5,609.7 688.5,608.8 690.0,607.6 691.5,606.2 693.0,604.7 694.5,603.2 696.0,602.2 699.0,601.1 700.5,599.5 701.5,598.0 702.7,596.5 704.1,595.0 706.5,593.5 708.0,593.2 711.0,593.2 712.8,593.5 715.5,594.3 718.5,594.6 721.5,594.8 723.0,595.5 726.0,596.0 728.8,595.0 730.0,593.5 730.8,592.0 732.0,590.1 733.2,587.5 733.5,586.0 734.6,583.0 735.4,581.5 736.5,579.6 738.0,578.1 739.5,577.0 742.0,575.5 744.0,574.8 747.0,574.1 748.5,573.9 750.1,574.0 753.0,574.8 756.0,575.1 759.0,574.7 760.6,574.0 762.2,572.5 764.6,571.0 766.5,570.5 768.3,571.0 771.0,572.4 774.0,572.1 777.0,571.1 778.5,570.8 780.0,571.0 782.1,572.5 783.7,574.0 785.8,575.5 787.4,577.0 788.6,578.5 790.3,580.0 792.0,580.4 795.0,581.4 796.2,583.0 796.8,584.5 797.3,587.5 797.9,590.5 798.4,592.0 798.9,595.0 798.7,598.0 798.4,601.0 799.5,603.4 801.0,605.5 802.3,607.0 804.0,608.5 805.5,609.7 807.0,610.9 808.4,613.0 807.0,614.7 805.5,616.0 804.0,617.5 802.5,619.3 801.0,621.6 800.1,623.5 799.4,625.0 798.0,627.4 796.5,628.0 793.5,628.5 791.7,629.5 790.5,631.5 789.6,634.0 789.0,635.5 787.5,638.1 786.0,639.6 784.5,640.8 783.0,643.0 782.4,644.5 781.5,646.0 779.6,647.5 777.4,649.0 775.5,650.3 774.0,650.6 772.5,650.5 771.0,650.5 768.0,651.6 766.5,652.3 763.5,653.0 760.5,652.3 759.0,652.0 757.5,652.2 755.9,653.5 754.5,655.3 753.3,658.0 753.0,661.0 753.1,664.0 752.7,665.5 751.5,667.5 750.3,670.0 750.0,671.5 749.1,674.5 748.3,676.0 747.3,679.0 748.5,681.8 749.1,683.5 748.5,686.5 747.0,688.0 745.5,688.9 744.0,690.8 744.0,691.7 744.5,694.0 745.2,697.0 745.5,700.0 745.7,701.5 745.5,704.2 744.7,706.0 743.9,707.5 742.5,710.0 741.0,711.4 739.5,712.6 737.7,713.5 735.0,714.5 733.5,715.2 730.8,716.5 729.0,717.6 727.5,718.4 725.6,719.5 723.0,721.0 721.5,722.1 720.0,723.6 718.6,725.5 717.6,727.0 715.9,728.5 714.0,730.0 712.5,731.4 711.0,732.6 709.5,734.0 708.6,736.0 709.5,738.4 711.0,740.4 711.9,742.0 712.2,745.0 712.3,748.0 712.5,749.5 713.9,752.5 715.0,754.0 716.1,755.5 715.9,758.5 714.2,760.0 712.6,761.5 711.9,763.0 711.0,765.8 710.6,767.5 709.5,769.2 707.8,770.5 706.4,772.0 705.3,775.0 705.9,778.0 706.6,779.5 708.0,782.5 708.4,784.0 708.0,786.4 706.5,787.9 705.0,788.7 702.0,788.9 699.0,789.9 697.5,791.2 696.0,792.9 694.5,794.4 693.0,794.9 690.0,795.2 688.4,796.0 687.0,797.6 686.2,800.5 685.6,803.5 685.0,805.0 684.0,806.5 682.5,808.2 681.0,810.6 680.6,812.5 679.9,815.5 679.4,817.0 679.5,820.0 680.2,821.5 681.0,823.6 681.1,826.0 680.7,827.5 680.2,830.5 M617.0,473.5 618.0,472.6 619.5,473.3 619.6,473.5 619.5,474.2 619.2,475.0 618.0,475.6 616.9,475.0 617.0,473.5 M599.7,496.0 601.5,495.0 604.5,495.2 606.0,497.0 606.3,499.0 605.2,500.5 603.0,500.6 601.5,500.0 599.6,499.0 599.7,496.0 M571.1,512.5 573.0,512.3 576.0,512.1 579.0,512.2 580.5,512.6 583.5,513.8 585.0,514.4 587.7,515.5 589.5,516.1 592.5,516.8 594.0,517.1 596.3,518.5 598.4,520.0 600.0,520.7 602.2,521.5 603.8,523.0 604.3,526.0 604.0,529.0 603.5,532.0 602.6,533.5 600.9,535.0 598.8,536.5 597.2,538.0 595.5,539.4 594.0,540.3 592.2,541.0 589.5,542.2 588.0,543.9 586.5,545.1 585.0,545.7 582.0,546.0 579.8,545.5 577.5,544.5 576.0,543.9 573.6,542.5 572.0,541.0 570.0,539.8 568.5,539.3 566.8,538.0 565.5,535.2 565.0,533.5 564.0,531.3 562.5,529.3 561.4,527.5 560.9,526.0 560.7,523.0 561.1,521.5 562.5,519.4 564.0,518.1 565.7,517.0 568.0,515.5 569.1,514.0 571.1,512.5 M460.0,830.5 459.7,827.5 459.8,824.5 460.5,822.5 461.1,820.0 461.1,817.0 461.4,814.0 462.5,812.5 464.0,811.0 465.3,809.5 466.4,806.5 466.5,805.0 466.5,803.1 466.0,800.5 465.0,798.0 463.5,796.0 462.5,794.5 462.3,791.5 462.8,788.5 463.5,786.5 465.0,784.8 468.0,784.2 469.5,783.9 471.1,782.5 472.3,779.5 473.3,778.0 474.3,776.5 475.5,774.7 477.0,772.9 478.5,771.6 480.0,769.9 481.5,768.2 483.0,767.4 486.0,766.5 488.2,766.0 490.1,764.5 491.1,763.0 492.5,761.5 493.9,760.0 495.6,758.5 497.8,757.0 499.5,755.9 501.0,755.0 502.8,754.0 504.9,752.5 506.3,751.0 507.3,749.5 508.5,747.4 509.6,745.0 510.2,743.5 511.5,741.4 513.0,739.9 515.3,739.0 517.5,738.5 520.1,737.5 522.0,736.0 523.5,734.8 525.0,733.3 526.5,731.8 528.0,730.6 529.5,729.5 531.0,727.8 532.5,726.5 534.4,725.5 537.0,724.6 538.9,724.0 541.5,723.0 543.0,722.4 546.0,721.7 549.0,721.2 550.5,720.4 552.2,719.5 554.8,718.0 556.4,716.5 557.4,715.0 558.1,713.5 559.1,710.5 559.5,708.2 560.2,706.0 561.9,704.5 564.0,703.3 565.5,702.3 567.0,701.0 568.0,698.5 568.4,695.5 568.7,694.0 569.2,691.0 570.0,689.2 571.5,686.9 572.6,685.0 573.1,683.5 573.8,680.5 574.5,678.8 576.0,676.1 577.0,674.5 577.8,673.0 578.8,670.0 579.0,667.0 579.1,665.5 580.1,662.5 580.6,661.0 580.1,659.5 579.0,657.0 579.0,655.6 579.7,653.5 580.7,652.0 582.0,650.1 583.4,647.5 584.0,646.0 585.0,643.0 585.4,641.5 586.4,638.5 586.6,637.0 587.1,634.0 588.0,631.9 588.9,629.5 589.5,628.0 590.9,625.0 591.5,623.5 592.1,620.5 591.8,617.5 591.1,614.5 591.0,613.0 591.4,611.5 592.7,610.0 594.0,608.4 595.4,605.5 596.2,604.0 597.2,602.5 598.5,600.4 599.7,598.0 600.4,596.5 601.2,593.5 601.7,592.0 603.0,590.3 604.8,589.0 607.5,587.7 609.0,587.4 610.8,587.5 613.5,588.2 615.3,589.0 618.0,590.4 619.5,591.3 621.1,592.0 624.0,592.5 627.0,592.6 629.2,593.5 631.5,594.6 633.8,595.0 636.0,595.8 637.5,597.2 639.0,598.5 640.5,599.7 642.0,601.3 642.6,604.0 642.0,605.5 641.2,608.5 642.0,610.4 643.5,612.4 644.5,614.5 644.2,617.5 645.0,619.9 646.5,620.9 649.5,621.5 652.5,621.5 654.8,622.0 656.8,623.5 657.9,625.0 660.0,626.2 663.0,626.5 664.5,627.5 666.0,628.9 667.5,629.8 670.5,631.0 672.0,631.8 673.5,633.3 675.0,635.3 676.5,636.5 678.0,637.1 680.9,638.5 682.5,639.2 685.1,640.0 687.0,640.2 690.0,640.1 691.5,639.7 694.5,638.6 696.0,637.4 697.5,635.9 699.0,634.0 699.6,632.5 699.5,629.5 699.2,626.5 699.4,623.5 700.3,620.5 700.7,619.0 700.5,617.2 698.3,616.0 696.4,614.5 695.6,613.0 695.6,610.0 697.3,608.5 699.0,608.0 702.0,607.7 703.5,606.8 705.0,604.4 705.8,602.5 706.5,600.8 708.0,599.1 711.0,598.3 714.0,599.0 715.5,599.5 717.5,601.0 720.0,602.4 721.5,602.7 724.5,602.8 726.6,602.5 729.0,601.9 731.6,601.0 733.3,599.5 733.9,598.0 734.8,595.0 735.5,593.5 736.5,591.3 737.6,589.0 738.4,587.5 739.5,585.2 741.0,583.3 742.5,582.1 744.0,581.3 747.0,580.7 750.0,580.4 753.0,580.1 756.0,580.7 759.0,581.1 762.0,580.5 765.0,580.1 768.0,580.7 771.0,580.1 774.0,580.9 777.0,581.4 780.0,580.6 783.0,580.9 784.5,581.8 786.0,583.2 787.5,585.1 789.0,587.4 789.2,589.0 788.6,590.5 789.0,592.6 792.0,592.9 793.5,593.5 793.8,596.5 793.1,598.0 792.0,600.2 791.7,602.5 792.0,604.3 793.5,606.3 795.0,607.4 796.5,609.3 798.0,611.4 799.1,613.0 798.4,616.0 797.7,617.5 796.5,620.2 795.8,622.0 794.8,623.5 792.7,625.0 790.5,626.2 789.0,627.4 787.5,629.0 786.2,631.0 785.4,632.5 784.5,635.1 783.6,637.0 782.2,638.5 780.3,640.0 778.7,641.5 777.3,643.0 775.5,644.0 772.5,644.0 769.5,643.1 767.5,643.0 765.0,641.5 763.5,640.7 760.5,640.3 757.6,641.5 756.3,643.0 754.8,644.5 753.0,645.9 751.5,647.2 750.0,648.8 749.2,650.5 748.9,653.5 749.3,656.5 748.7,659.5 748.2,661.0 747.1,664.0 746.4,665.5 745.4,667.0 744.0,669.5 743.4,671.5 742.5,673.7 741.4,676.0 740.9,677.5 740.8,680.5 741.1,682.0 741.0,684.3 740.2,686.5 739.5,688.1 739.1,691.0 739.4,694.0 740.1,695.5 741.2,697.0 742.5,700.0 741.8,703.0 741.0,704.6 739.5,707.1 738.0,708.3 736.1,709.0 733.5,709.9 732.0,710.6 730.3,712.0 728.4,713.5 726.0,715.0 724.5,715.9 723.0,716.9 721.5,718.0 719.9,719.5 718.2,721.0 716.6,722.5 715.1,724.0 713.5,725.5 711.7,727.0 709.8,728.5 708.0,729.8 706.5,731.0 705.0,732.3 703.5,734.1 702.3,736.0 701.6,737.5 701.0,740.5 700.5,742.7 700.2,745.0 700.5,746.5 702.0,749.1 703.3,751.0 703.9,752.5 703.5,755.5 703.1,757.0 702.1,760.0 701.8,761.5 702.0,763.0 702.7,766.0 702.0,768.0 701.0,770.5 700.5,772.0 699.2,775.0 698.9,776.5 698.1,779.5 696.6,781.0 694.5,782.4 693.0,783.4 691.4,784.0 688.9,785.5 687.6,787.0 686.7,788.5 685.9,791.5 685.4,793.0 684.0,795.7 683.3,797.5 682.5,799.9 681.7,802.0 680.8,803.5 679.0,805.0 677.3,806.5 676.3,808.0 675.2,811.0 674.8,812.5 673.8,815.5 673.2,817.0 672.1,820.0 671.8,821.5 672.0,823.7 672.5,826.0 672.0,829.0 671.5,830.5 M591.6,830.5 592.5,828.8 593.8,826.0 594.6,824.5 595.8,823.0 596.5,820.0 595.5,818.4 594.0,816.7 592.0,815.5 590.2,814.0 589.1,812.5 588.0,810.9 586.5,808.2 586.5,807.6 586.8,805.0 586.4,803.5 585.0,801.3 583.7,799.0 583.5,797.5 583.3,794.5 582.0,792.5 580.4,793.0 579.0,794.5 577.5,797.3 576.4,799.0 575.4,800.5 574.2,802.0 573.0,803.6 572.1,806.5 571.8,809.5 571.5,811.0 570.4,814.0 569.7,815.5 568.5,817.6 567.7,820.0 567.1,823.0 566.7,824.5 565.9,827.5 566.1,830.5 M577.3,515.5 579.0,515.1 581.1,515.5 583.5,516.5 585.0,517.3 587.7,518.5 589.5,519.2 591.4,520.0 594.0,521.5 595.5,522.1 597.1,523.0 599.0,524.5 599.7,527.5 598.5,530.5 597.0,531.6 595.5,533.5 594.7,535.0 593.7,536.5 591.0,537.7 588.0,537.6 586.5,538.4 585.0,540.4 583.5,542.1 582.0,542.6 580.5,542.4 577.8,541.0 576.0,539.9 574.5,538.8 573.0,537.6 571.2,536.5 569.1,535.0 568.2,533.5 567.0,530.5 566.2,529.0 565.0,527.5 564.0,526.0 563.8,523.0 564.7,521.5 567.0,520.4 570.0,520.7 571.9,520.0 574.4,518.5 575.7,517.0 577.3,515.5 M640.5,788.5 639.1,790.0 639.0,791.5 638.7,794.5 637.9,797.5 637.9,800.5 639.0,802.8 640.0,805.0 639.5,808.0 639.0,809.7 637.5,811.3 635.8,811.0 633.0,810.5 631.5,811.0 629.6,812.5 627.8,814.0 626.5,815.5 626.0,818.5 627.0,820.6 628.5,821.9 630.0,823.2 631.6,824.5 634.5,826.0 636.0,826.5 639.0,826.3 639.9,824.5 640.5,823.0 642.0,820.0 642.4,818.5 642.9,815.5 643.1,812.5 642.6,809.5 642.3,806.5 642.5,803.5 642.5,800.5 642.3,797.5 642.0,795.0 641.4,793.0 641.0,790.0 640.5,788.5 M466.3,830.5 466.1,827.5 466.1,824.5 466.5,822.4 467.1,820.0 467.9,817.0 469.4,815.5 471.0,814.0 471.9,812.5 472.6,811.0 473.7,808.0 474.3,806.5 475.2,803.5 474.0,800.9 472.5,799.0 472.1,797.5 471.0,795.5 469.5,793.4 469.0,791.5 470.2,790.0 472.5,789.8 475.2,788.5 475.9,787.0 477.0,784.5 478.3,782.5 479.8,781.0 481.5,779.6 482.9,778.0 483.7,776.5 484.6,775.0 486.0,773.5 488.7,772.0 490.5,770.9 492.0,770.0 493.5,768.8 495.3,767.5 497.2,766.0 498.2,764.5 499.2,761.5 501.0,760.5 502.5,760.0 505.5,759.3 507.7,758.5 510.0,757.3 511.5,756.5 513.2,755.5 514.5,753.9 516.0,751.7 517.0,749.5 516.5,746.5 517.6,745.0 520.5,744.2 522.0,743.4 523.5,741.5 525.0,739.3 526.4,737.5 527.7,736.0 529.4,734.5 531.0,733.5 532.5,732.9 534.7,731.5 535.6,730.0 537.0,727.8 538.5,726.7 541.5,725.5 543.0,724.6 544.5,723.7 547.5,722.9 549.1,722.5 551.9,721.0 553.5,720.1 555.0,719.0 556.5,717.7 558.0,715.9 559.2,713.5 559.8,712.0 560.9,709.0 561.4,707.5 562.5,706.0 564.7,704.5 567.0,703.2 568.5,701.9 569.5,700.0 569.7,697.0 570.0,695.0 570.5,692.5 571.5,689.8 572.8,688.0 574.0,686.5 574.8,685.0 575.5,682.0 576.0,680.3 577.5,677.6 579.0,676.0 580.5,674.5 581.1,673.0 581.4,670.0 581.6,667.0 582.4,665.5 584.0,664.0 585.4,662.5 586.1,659.5 586.5,657.5 586.5,655.6 585.2,653.5 584.9,652.0 585.4,650.5 586.5,647.5 586.9,646.0 587.9,643.0 588.3,641.5 589.3,638.5 589.8,637.0 590.7,634.0 591.0,632.4 591.8,629.5 592.8,628.0 594.0,626.5 595.1,623.5 595.4,620.5 594.9,617.5 594.5,614.5 594.0,611.5 595.3,608.5 595.9,607.0 597.0,604.8 598.5,602.5 599.4,601.0 600.2,599.5 601.5,596.8 602.3,595.0 603.0,593.2 604.5,591.2 606.0,590.2 609.0,589.6 612.0,590.0 613.5,590.5 615.8,592.0 618.0,593.5 619.5,594.2 621.0,595.0 623.5,596.5 625.5,598.0 627.0,598.9 628.5,600.2 629.8,602.5 630.3,604.0 629.9,605.5 629.4,608.5 629.5,611.5 630.0,614.5 630.9,616.0 631.8,617.5 633.0,619.8 634.5,621.7 636.0,623.0 637.5,624.1 639.0,625.3 640.8,626.5 643.5,627.2 646.0,628.0 648.0,628.8 649.5,629.8 651.1,631.0 653.5,632.5 655.5,633.7 657.0,634.2 660.0,634.6 663.0,635.2 666.0,634.9 668.8,635.5 670.5,636.7 672.0,637.9 673.5,639.6 675.0,640.3 678.0,640.7 681.0,641.5 682.5,641.9 685.5,642.5 688.5,642.6 691.5,642.1 693.1,641.5 695.9,640.0 697.5,639.0 699.0,638.0 700.6,637.0 702.5,635.5 703.9,634.0 705.0,632.5 705.7,629.5 705.1,626.5 706.3,623.5 708.0,622.5 710.3,622.0 712.5,621.8 715.5,621.8 718.5,621.2 720.0,620.1 722.1,619.0 724.5,619.0 726.0,620.2 727.5,622.0 729.0,623.3 730.5,624.4 732.0,625.8 733.2,628.0 733.5,629.8 735.0,631.7 736.5,633.1 738.0,634.0 739.1,632.5 736.5,631.0 735.4,629.5 734.4,628.0 733.9,625.0 733.8,622.0 734.3,619.0 734.6,616.0 734.1,613.0 733.5,610.0 734.6,607.0 735.9,605.5 736.9,604.0 738.0,601.5 739.5,599.6 740.7,598.0 741.2,596.5 741.1,593.5 741.5,590.5 742.5,588.5 744.0,586.0 745.5,584.8 747.0,584.4 748.5,584.5 751.5,584.9 754.5,585.0 757.5,586.0 759.0,586.7 760.5,587.6 763.5,588.4 766.5,588.2 769.5,587.8 772.5,588.6 774.0,589.1 777.0,590.0 778.5,590.7 780.0,592.2 781.5,594.5 782.9,596.5 784.3,598.0 785.5,599.5 786.5,601.0 787.2,604.0 786.0,606.5 784.5,608.3 784.5,609.0 786.0,610.2 789.0,610.9 789.8,613.0 790.2,616.0 790.8,617.5 791.1,620.5 790.5,622.1 789.0,623.9 787.5,625.1 785.2,626.5 783.0,627.8 781.5,628.8 780.0,629.8 778.5,632.0 777.0,633.3 774.0,632.7 772.5,631.2 771.8,629.5 769.5,628.2 766.5,628.9 765.0,629.6 763.2,631.0 760.5,632.5 759.0,633.0 756.0,633.5 754.0,634.0 754.0,637.0 753.6,640.0 753.0,641.5 751.5,643.7 750.0,644.8 747.2,646.0 745.5,647.1 744.0,648.3 742.5,649.9 742.2,652.0 743.0,653.5 744.0,655.0 745.2,658.0 744.9,661.0 744.0,663.7 743.0,665.5 742.2,667.0 741.2,670.0 740.9,671.5 739.8,674.5 739.3,676.0 738.8,679.0 738.6,682.0 738.2,685.0 737.8,686.5 737.1,689.5 736.8,692.5 736.9,695.5 738.0,698.0 739.3,700.0 738.8,703.0 737.9,704.5 735.8,706.0 733.5,706.5 731.0,707.5 729.6,709.0 728.3,710.5 726.7,712.0 724.6,713.5 723.0,714.5 721.5,715.5 720.0,716.5 718.3,718.0 716.7,719.5 715.1,721.0 713.7,722.5 712.0,724.0 710.1,725.5 708.2,727.0 706.5,728.1 705.0,729.0 703.5,730.0 702.0,731.5 700.5,733.0 699.3,736.0 699.0,738.1 698.6,740.5 697.5,743.5 697.2,745.0 697.2,748.0 698.3,749.5 699.9,751.0 701.0,752.5 700.7,755.5 700.2,757.0 699.1,760.0 698.5,761.5 697.5,763.0 695.8,764.5 694.1,766.0 692.9,767.5 692.6,770.5 693.0,772.3 693.5,775.0 693.0,776.6 691.9,779.5 690.6,781.0 688.8,782.5 687.1,784.0 685.8,785.5 684.8,787.0 684.0,789.0 683.4,791.5 682.5,793.8 681.5,796.0 680.7,797.5 679.5,799.4 678.0,801.4 676.5,803.1 675.0,805.0 674.3,806.5 673.5,808.6 672.6,811.0 672.0,812.7 670.7,815.5 669.3,817.0 667.9,818.5 666.5,820.0 665.3,821.5 664.5,824.5 664.4,826.0 664.5,827.8 664.9,830.5 M596.5,830.5 597.0,828.6 598.0,826.0 598.7,824.5 599.9,821.5 600.3,820.0 600.7,817.0 600.0,814.3 598.5,812.7 597.0,811.4 595.7,809.5 595.2,808.0 594.9,805.0 594.1,802.0 592.6,800.5 591.0,799.2 589.7,797.5 588.9,796.0 588.4,793.0 588.7,790.0 588.7,787.0 589.2,784.0 589.4,781.0 589.5,779.5 589.9,776.5 589.9,773.5 591.0,771.1 592.5,769.1 593.4,767.5 594.0,765.6 594.6,763.0 594.0,760.4 593.0,758.5 591.0,757.8 589.5,759.3 588.3,761.5 587.7,763.0 587.3,766.0 586.8,769.0 586.3,770.5 585.0,773.4 584.3,775.0 583.5,776.8 582.8,779.5 582.0,782.1 581.3,784.0 580.5,785.6 579.0,788.5 577.7,790.0 576.7,791.5 576.0,793.1 574.8,796.0 573.8,797.5 573.0,799.0 571.5,801.3 570.1,803.5 569.6,805.0 569.0,808.0 568.6,811.0 568.0,812.5 567.0,814.0 565.5,816.3 564.9,818.5 564.8,821.5 564.7,824.5 564.0,827.4 563.5,829.0 M579.0,518.5 581.1,518.5 583.5,519.8 585.0,520.8 586.5,521.7 589.1,523.0 590.7,524.5 591.7,526.0 591.5,529.0 591.0,530.5 589.5,532.0 587.7,533.5 585.7,535.0 583.6,536.5 582.0,537.9 580.5,538.6 578.6,538.0 576.3,536.5 574.5,535.3 573.0,534.2 571.5,532.4 570.6,530.5 570.0,528.1 569.8,526.0 571.5,524.6 573.0,523.2 574.5,522.0 576.0,520.9 577.5,519.6 579.0,518.5 M748.1,589.0 750.0,588.5 753.0,588.3 755.1,589.0 757.1,590.5 759.0,591.5 762.0,591.5 765.0,591.9 766.5,592.1 769.5,592.5 772.5,593.1 774.3,593.5 777.0,594.8 778.5,596.1 779.8,598.0 780.7,599.5 781.5,601.0 781.5,604.0 781.0,605.5 780.7,608.5 781.0,611.5 781.5,613.3 783.0,615.7 784.5,617.2 785.9,619.0 786.3,620.5 785.6,622.0 783.0,622.8 780.0,623.5 778.5,623.8 775.5,623.8 772.5,623.8 769.5,624.2 766.6,625.0 765.0,625.8 763.5,626.5 761.6,628.0 759.5,629.5 757.5,630.2 754.5,630.4 751.5,630.4 748.5,630.2 745.5,629.9 742.5,630.0 739.5,629.6 738.0,628.1 737.5,626.5 737.1,623.5 737.5,620.5 738.0,618.2 738.4,616.0 738.5,613.0 738.5,610.0 739.5,607.9 740.5,605.5 741.0,603.6 742.1,601.0 743.0,599.5 744.0,597.0 744.9,595.0 745.7,593.5 746.9,590.5 748.1,589.0 M651.0,752.0 649.5,753.5 648.0,754.9 646.5,756.4 645.2,758.5 644.8,760.0 644.5,763.0 644.9,766.0 646.3,767.5 648.0,767.6 649.5,766.8 651.0,765.3 652.3,763.0 652.8,761.5 653.3,758.5 654.0,755.5 654.8,754.0 655.6,752.5 654.0,751.1 651.0,752.0 M499.7,830.5 500.0,827.5 499.5,825.2 498.9,823.0 499.1,820.0 498.0,817.3 496.5,816.0 495.0,814.9 493.5,813.4 492.0,811.0 491.4,809.5 490.6,806.5 489.8,805.0 488.7,803.5 487.8,800.5 487.4,799.0 486.6,796.0 486.0,794.1 484.9,791.5 484.0,790.0 483.9,787.0 485.1,785.5 486.6,784.0 487.8,782.5 489.0,780.7 490.5,779.1 492.0,777.9 493.9,776.5 495.8,775.0 497.0,773.5 498.1,772.0 499.9,770.5 502.5,769.5 504.0,768.8 505.8,767.5 507.3,766.0 508.8,764.5 510.5,763.0 512.6,761.5 514.5,760.6 516.0,759.9 517.9,758.5 519.1,757.0 520.5,755.5 522.1,754.0 523.7,752.5 525.0,751.0 526.3,748.0 526.7,746.5 527.4,743.5 528.0,741.5 529.1,739.0 530.5,737.5 532.5,736.5 534.0,736.0 536.3,734.5 537.4,733.0 538.5,730.9 540.0,729.1 541.5,728.1 543.0,726.9 544.9,725.5 547.5,724.3 549.0,723.8 551.5,722.5 553.5,721.2 555.0,720.1 556.5,718.8 558.0,717.3 559.4,715.0 560.2,713.5 561.0,711.8 562.4,709.0 563.3,707.5 564.9,706.0 567.0,704.8 568.5,703.8 570.0,702.4 571.2,700.0 571.5,697.0 571.8,695.5 572.5,692.5 573.0,691.0 574.5,688.8 576.0,686.8 576.9,685.0 577.5,682.9 578.6,680.5 580.1,679.0 582.0,678.7 585.0,678.9 586.9,677.5 586.7,674.5 587.5,671.5 588.1,670.0 588.0,668.2 587.8,665.5 588.4,664.0 589.5,661.9 591.0,659.8 591.3,658.0 590.9,656.5 590.7,653.5 590.1,650.5 590.7,647.5 591.6,646.0 591.5,643.0 591.1,640.0 592.1,637.0 592.8,635.5 594.0,632.8 595.5,631.0 596.5,629.5 597.2,628.0 597.8,625.0 597.9,622.0 597.5,619.0 597.2,616.0 597.0,614.3 596.3,611.5 596.6,608.5 597.1,607.0 598.5,604.6 599.8,602.5 600.6,601.0 601.5,599.3 603.0,596.6 603.8,595.0 604.5,593.3 606.0,591.8 609.0,591.3 611.8,592.0 613.5,592.8 615.0,593.8 616.9,595.0 619.2,596.5 621.0,597.7 622.5,598.7 624.0,600.1 625.0,602.5 624.0,604.9 622.5,606.9 622.3,608.5 623.4,610.0 625.5,611.3 626.8,613.0 627.4,614.5 628.5,616.8 630.0,619.0 630.9,620.5 632.0,622.0 633.5,623.5 635.2,625.0 637.2,626.5 639.0,627.7 640.5,628.4 643.5,629.2 645.0,629.6 648.0,631.0 649.5,631.9 651.0,632.9 652.5,634.3 654.0,635.7 655.6,637.0 658.5,637.9 661.5,638.5 663.0,638.6 666.0,638.8 667.5,640.0 669.0,641.6 672.0,642.6 675.0,642.4 678.0,642.5 680.1,643.0 682.5,643.7 685.5,644.1 688.5,644.1 691.5,643.6 693.2,643.0 695.8,641.5 697.5,640.4 699.0,639.5 701.0,638.5 703.5,637.3 705.0,636.6 708.0,635.9 710.2,635.5 712.5,634.1 713.4,632.5 714.0,630.2 714.6,628.0 717.0,626.5 718.9,626.5 721.5,626.2 724.5,626.4 726.0,626.7 729.0,627.5 730.5,628.5 732.0,630.8 733.2,632.5 734.6,634.0 736.5,635.1 738.0,635.6 741.0,635.6 744.0,635.7 747.0,635.6 748.5,635.4 750.0,635.6 751.5,637.4 751.7,640.0 751.1,641.5 749.7,643.0 747.0,644.1 745.5,644.5 743.2,646.0 741.9,647.5 740.9,649.0 740.6,652.0 741.0,653.5 742.3,656.5 742.6,658.0 742.9,661.0 742.5,662.6 741.0,665.3 740.3,667.0 739.5,669.8 739.1,671.5 738.2,674.5 737.8,676.0 737.4,679.0 737.0,682.0 736.5,684.6 735.9,686.5 735.3,689.5 735.0,691.2 734.1,694.0 734.8,697.0 735.6,698.5 736.5,700.0 736.5,702.0 735.0,703.8 733.1,704.5 730.5,705.7 729.0,707.1 727.5,709.0 726.1,710.5 724.5,711.8 723.0,712.8 721.5,713.7 719.2,715.0 717.4,716.5 715.8,718.0 714.3,719.5 713.1,721.0 711.5,722.5 709.5,724.0 708.0,725.2 706.5,726.2 704.8,727.0 702.3,728.5 700.5,729.9 699.0,731.4 698.2,733.0 697.7,736.0 697.5,738.3 697.0,740.5 696.0,742.9 695.2,745.0 695.0,748.0 696.0,750.5 697.5,752.4 698.2,754.0 697.7,757.0 697.4,758.5 696.0,761.2 694.5,762.7 693.0,764.0 691.5,765.4 690.2,767.5 689.9,769.0 690.1,770.5 690.8,773.5 690.5,776.5 689.9,778.0 688.5,780.4 687.0,782.1 685.5,783.6 684.0,785.4 683.1,787.0 682.4,788.5 681.6,791.5 681.0,793.2 679.5,795.9 678.4,797.5 677.2,799.0 676.1,800.5 675.0,802.0 673.5,804.2 672.5,806.5 672.0,808.0 670.8,811.0 670.2,812.5 669.0,814.6 667.5,816.0 666.0,817.2 664.5,818.5 663.0,820.5 662.3,823.0 662.2,826.0 662.3,829.0 M600.3,830.5 600.5,827.5 601.2,824.5 601.6,823.0 602.7,820.0 603.3,818.5 603.7,815.5 603.0,812.5 602.5,811.0 602.6,808.0 602.7,805.0 602.9,802.0 601.5,799.6 599.6,799.0 597.0,797.8 595.5,796.6 594.0,794.8 593.1,793.0 592.7,790.0 592.6,787.0 592.9,784.0 593.9,781.0 594.7,779.5 595.5,776.7 596.2,775.0 597.9,773.5 599.5,772.0 600.5,770.5 600.9,767.5 601.0,764.5 600.6,761.5 600.3,758.5 600.1,755.5 600.6,752.5 600.5,749.5 599.6,748.0 597.7,746.5 595.5,746.1 594.0,746.7 592.5,748.1 591.0,750.0 589.5,751.1 586.5,751.9 585.0,752.6 583.5,755.0 583.3,757.0 582.9,760.0 582.6,763.0 582.0,765.3 582.0,767.5 582.1,769.0 581.9,770.5 580.7,773.5 580.0,775.0 579.2,778.0 579.0,780.1 578.6,782.5 577.5,785.5 576.3,787.0 574.6,788.5 573.7,790.0 573.0,792.6 572.2,794.5 571.4,796.0 570.0,799.0 569.1,800.5 568.1,802.0 567.0,805.0 566.6,806.5 565.9,809.5 565.1,811.0 563.8,812.5 562.5,815.5 562.5,817.0 562.5,818.5 562.5,820.0 562.6,821.5 562.9,824.5 562.5,826.2 561.1,829.0 560.5,830.5 M643.9,830.5 644.2,827.5 644.2,824.5 644.4,821.5 644.6,818.5 644.9,815.5 645.1,814.0 645.0,811.0 644.7,809.5 644.6,806.5 644.8,803.5 644.9,800.5 644.8,797.5 644.1,794.5 643.9,791.5 644.0,788.5 643.5,786.0 643.1,784.0 643.3,781.0 643.5,779.3 644.4,776.5 645.1,775.0 645.0,773.2 642.7,773.5 641.3,775.0 640.1,776.5 639.0,778.0 637.8,781.0 637.4,782.5 637.1,785.5 636.9,788.5 636.9,791.5 636.3,794.5 635.7,796.0 635.0,799.0 634.6,802.0 634.5,803.6 633.0,806.2 631.5,807.4 630.0,808.6 628.5,810.0 627.0,811.5 625.5,813.0 624.0,815.4 623.7,817.0 623.5,820.0 623.8,823.0 624.5,824.5 625.5,827.3 625.5,827.8 625.1,830.5 M577.6,523.0 580.5,521.9 582.3,523.0 583.5,524.5 585.0,527.5 585.5,529.0 585.0,531.8 583.5,533.5 582.0,534.3 579.0,534.4 577.3,533.5 575.3,532.0 574.4,530.5 574.5,528.3 575.2,526.0 576.0,524.5 577.6,523.0 M752.2,593.5 754.5,593.1 756.0,593.9 759.0,594.7 762.0,594.2 765.0,594.6 766.5,595.0 769.5,596.1 771.0,596.6 774.0,597.0 775.8,598.0 777.1,599.5 778.3,602.5 778.1,605.5 778.3,608.5 778.6,610.0 778.9,613.0 779.2,616.0 778.5,618.8 777.0,619.4 774.0,620.2 771.2,620.5 769.5,621.0 767.9,622.0 765.4,623.5 763.5,624.4 762.0,625.2 760.2,626.5 757.5,628.0 756.0,628.3 753.0,628.5 750.0,628.3 747.5,628.0 745.5,627.7 742.5,627.3 741.0,626.4 740.2,623.5 740.3,620.5 740.6,617.5 740.9,614.5 741.1,613.0 741.5,610.0 742.5,607.3 743.0,605.5 743.7,602.5 744.4,601.0 745.5,599.0 747.0,596.8 748.5,595.6 750.0,594.8 752.2,593.5 M515.7,830.5 514.8,827.5 514.0,826.0 513.0,824.1 512.0,821.5 511.5,819.5 510.9,817.0 510.0,814.5 509.4,812.5 508.6,809.5 507.9,808.0 507.0,806.2 505.5,803.5 505.3,802.0 505.3,799.0 504.1,796.0 502.6,794.5 501.1,793.0 499.5,791.5 498.0,790.3 496.5,789.2 495.3,787.0 496.5,784.4 498.5,784.0 500.2,782.5 501.0,780.2 502.2,778.0 503.3,776.5 504.5,775.0 506.0,773.5 507.6,772.0 508.8,770.5 510.0,768.5 511.5,766.6 513.0,765.6 516.0,764.5 517.5,764.1 520.2,763.0 521.7,761.5 522.4,760.0 523.5,758.3 525.1,757.0 526.7,755.5 528.0,753.0 528.8,751.0 529.5,749.2 530.4,746.5 531.0,743.9 531.6,742.0 532.6,740.5 534.3,739.0 536.3,737.5 538.1,736.0 539.4,734.5 540.5,733.0 541.6,731.5 543.0,729.7 544.5,728.2 546.1,727.0 548.5,725.5 550.5,724.4 552.0,723.4 553.5,722.3 555.2,721.0 556.9,719.5 558.4,718.0 559.5,716.5 561.0,713.8 562.1,712.0 563.1,710.5 564.1,709.0 565.5,707.5 567.6,706.0 569.6,704.5 571.1,703.0 572.1,701.5 573.0,698.9 573.8,697.0 574.7,695.5 575.5,692.5 576.0,690.4 577.3,688.0 578.3,686.5 579.1,685.0 580.5,683.1 583.5,682.1 585.0,681.9 588.0,680.7 589.5,679.5 590.4,677.5 590.9,674.5 591.0,672.8 591.2,670.0 592.2,667.0 593.3,665.5 595.2,664.0 596.7,662.5 597.6,661.0 597.6,658.0 597.0,656.0 595.5,653.6 594.3,652.0 593.9,650.5 594.3,649.0 595.5,647.3 595.8,644.5 595.0,643.0 594.0,641.2 593.9,638.5 594.7,637.0 595.9,635.5 597.6,634.0 598.8,632.5 599.0,629.5 599.7,626.5 599.9,623.5 599.6,620.5 599.0,617.5 598.7,614.5 598.5,612.7 598.1,610.0 598.5,607.7 599.7,605.5 600.5,604.0 601.5,601.9 602.8,599.5 603.7,598.0 604.6,596.5 606.0,593.5 607.5,592.8 610.5,593.4 612.0,594.0 614.1,595.0 616.5,596.4 618.0,597.5 619.5,598.5 621.0,599.6 622.5,601.8 622.5,603.2 621.6,605.5 620.9,607.0 621.0,609.4 622.5,611.2 624.0,612.3 625.5,614.0 626.5,616.0 627.4,617.5 628.5,619.2 630.0,621.4 631.5,623.1 633.0,624.5 634.5,625.9 636.0,627.2 637.5,628.2 639.9,629.5 642.0,630.1 645.0,630.8 646.5,631.4 648.4,632.5 650.5,634.0 652.0,635.5 653.3,637.0 654.8,638.5 657.0,639.5 659.0,640.0 661.5,640.7 664.5,640.9 666.0,641.5 668.1,643.0 670.5,643.9 673.5,644.0 676.5,643.7 679.5,644.1 681.0,644.7 684.0,645.3 687.0,645.1 690.0,645.0 692.2,644.5 694.5,643.6 696.0,642.6 697.5,641.5 700.1,640.0 702.0,639.2 705.0,638.8 706.5,638.4 709.5,637.2 711.0,636.6 713.0,635.5 714.4,634.0 715.5,632.1 717.0,630.2 718.5,629.2 721.5,628.3 724.5,628.4 727.5,628.9 729.0,629.5 730.7,631.0 732.0,632.8 733.5,634.4 735.2,635.5 738.0,636.5 741.0,636.7 743.6,637.0 745.5,637.4 748.5,637.9 749.8,640.0 748.5,641.8 745.5,642.7 744.0,643.0 741.9,644.5 740.9,646.0 739.7,649.0 739.4,650.5 739.5,652.2 740.4,655.0 741.0,657.5 741.4,659.5 741.0,662.5 740.1,664.0 739.1,665.5 738.1,668.5 737.6,670.0 737.1,673.0 736.6,676.0 736.4,677.5 736.0,680.5 735.3,683.5 734.7,685.0 733.6,688.0 733.3,689.5 732.2,692.5 731.8,694.0 732.0,696.8 732.6,698.5 732.9,701.5 731.4,703.0 729.5,704.5 727.9,706.0 726.8,707.5 725.4,709.0 723.7,710.5 721.5,711.9 720.0,712.7 718.5,713.6 716.8,715.0 715.3,716.5 713.9,718.0 712.5,719.7 711.0,721.2 709.3,722.5 707.3,724.0 705.0,725.2 703.5,725.7 700.8,727.0 699.0,727.8 697.5,729.1 696.7,731.5 696.5,734.5 696.4,737.5 696.0,739.2 694.8,742.0 694.2,743.5 693.1,746.5 693.3,749.5 694.5,752.5 695.2,754.0 695.5,757.0 694.5,759.9 693.0,761.5 691.5,762.7 690.0,763.8 688.5,765.7 688.1,767.5 688.2,770.5 688.5,772.0 688.6,775.0 688.2,776.5 687.2,779.5 686.1,781.0 684.7,782.5 683.4,784.0 682.3,785.5 681.0,787.6 680.1,790.0 679.5,792.6 678.5,794.5 677.5,796.0 676.4,797.5 675.0,799.3 673.5,801.3 672.1,803.5 671.5,805.0 670.5,807.6 669.6,809.5 669.0,811.0 667.5,813.5 666.0,814.9 664.5,816.0 663.0,817.5 661.5,819.8 660.9,821.5 660.5,824.5 660.2,827.5 659.7,829.0 M612.3,830.5 611.0,829.0 609.0,827.9 606.0,828.1 605.1,826.0 605.4,823.0 606.0,820.9 606.5,818.5 606.7,815.5 606.7,812.5 607.0,809.5 607.5,806.5 607.3,803.5 607.2,800.5 606.1,797.5 604.6,796.0 603.0,795.2 601.1,794.5 599.7,793.0 598.9,790.0 598.5,788.4 597.9,785.5 599.9,784.0 601.1,782.5 601.1,779.5 601.0,776.5 601.6,775.0 603.0,772.7 603.9,770.5 604.5,768.3 604.9,766.0 605.0,763.0 605.0,760.0 605.3,757.0 606.0,754.0 605.7,751.0 605.8,748.0 605.2,745.0 604.5,742.4 604.1,740.5 603.2,737.5 603.0,736.0 602.9,733.0 602.8,730.0 603.0,727.9 603.8,725.5 604.6,724.0 605.1,721.0 603.0,720.3 601.5,721.9 600.0,723.1 598.5,724.1 596.9,725.5 595.5,727.4 594.0,729.0 592.7,731.5 592.1,733.0 591.0,735.4 590.6,737.5 590.9,740.5 590.2,743.5 589.0,745.0 587.4,746.5 585.0,747.7 582.0,747.3 579.4,748.0 578.0,749.5 577.0,751.0 576.3,754.0 577.0,757.0 577.5,758.5 578.0,761.5 577.6,764.5 577.2,766.0 577.0,769.0 576.0,770.8 573.0,770.8 570.3,772.0 570.8,775.0 570.2,778.0 568.7,779.5 568.0,781.0 568.5,783.0 570.0,784.9 570.3,787.0 570.0,789.6 569.1,791.5 568.2,793.0 567.0,795.5 566.1,797.5 565.5,799.0 564.3,802.0 564.0,803.8 563.4,806.5 562.5,808.8 561.1,811.0 560.1,812.5 559.9,815.5 560.3,818.5 560.4,821.5 560.7,824.5 559.5,827.4 558.4,829.0 557.7,830.5 M647.9,830.5 647.5,827.5 646.9,824.5 646.5,822.4 646.3,820.0 646.4,817.0 646.5,814.5 646.5,812.5 646.4,811.0 646.0,808.0 646.4,805.0 646.6,803.5 646.8,800.5 646.8,797.5 646.4,796.0 645.9,793.0 646.5,790.6 647.3,788.5 647.5,785.5 647.7,782.5 648.0,779.5 648.3,778.0 648.9,775.0 649.5,772.1 650.3,770.5 651.4,769.0 652.5,767.5 654.0,765.7 655.5,763.6 656.4,761.5 657.0,759.2 657.8,757.0 658.6,755.5 660.0,752.5 660.4,751.0 661.0,748.0 661.1,745.0 660.0,742.2 658.5,740.9 657.0,740.1 655.0,740.5 653.9,742.0 652.5,744.0 651.0,745.4 649.4,746.5 647.6,748.0 646.4,749.5 644.7,751.0 642.3,752.5 641.1,754.0 640.4,755.5 639.3,758.5 638.6,760.0 638.0,763.0 638.0,766.0 637.5,767.8 636.3,770.5 635.8,772.0 636.0,774.6 636.1,776.5 636.0,778.1 635.5,781.0 635.4,784.0 635.4,787.0 635.4,790.0 635.0,793.0 634.3,794.5 633.1,797.5 632.7,799.0 631.6,802.0 631.1,803.5 630.0,805.6 628.5,807.3 627.0,809.0 625.5,810.6 624.0,812.1 622.6,814.0 622.0,815.5 621.4,818.5 621.0,820.7 620.6,823.0 619.8,826.0 619.3,827.5 618.0,829.6 M578.8,527.5 579.0,527.1 580.5,526.5 581.4,527.5 582.0,529.0 582.0,529.0 582.0,529.0 580.5,529.9 579.0,529.0 579.0,528.9 578.8,527.5 M749.5,598.0 751.5,597.2 754.5,596.8 757.5,597.1 760.5,597.1 763.5,597.5 765.0,598.3 768.0,599.2 769.7,599.5 772.5,599.9 774.4,601.0 775.5,603.3 775.7,605.5 776.1,608.5 776.4,611.5 775.9,614.5 775.1,616.0 772.5,616.9 770.0,617.5 768.0,618.8 766.5,620.3 765.0,621.6 763.5,622.5 761.6,623.5 759.2,625.0 757.5,625.9 755.1,626.5 753.0,626.6 751.5,626.4 748.5,625.6 746.9,625.0 745.3,623.5 744.0,621.1 743.2,619.0 742.9,616.0 743.1,613.0 743.6,610.0 744.2,608.5 745.0,605.5 745.5,603.2 746.6,601.0 747.7,599.5 749.5,598.0 M523.3,830.5 523.2,827.5 522.7,824.5 522.0,823.0 520.5,821.4 519.0,819.6 518.1,817.0 517.6,814.0 517.2,812.5 516.5,809.5 516.0,807.5 515.5,805.0 515.7,802.0 516.1,800.5 516.0,797.6 515.1,796.0 514.1,794.5 512.8,793.0 511.0,791.5 509.4,790.0 508.3,788.5 507.1,785.5 507.6,782.5 508.5,780.4 510.0,778.3 511.1,776.5 511.5,774.2 511.8,772.0 513.0,769.9 514.5,768.8 517.5,767.8 519.0,767.2 522.0,766.4 524.8,766.0 526.5,765.5 528.3,764.5 530.2,763.0 531.5,761.5 532.5,758.6 532.5,758.5 531.6,755.5 531.8,752.5 532.5,751.0 533.8,748.0 534.2,746.5 535.0,743.5 535.6,742.0 537.0,739.9 538.5,738.6 540.0,737.3 541.5,735.6 543.0,733.7 544.3,731.5 545.5,730.0 547.4,728.5 549.0,727.1 550.5,725.8 552.0,724.6 553.5,723.4 555.0,722.2 556.5,720.9 558.0,719.4 559.5,717.7 561.0,715.5 562.3,713.5 563.5,712.0 564.8,710.5 566.2,709.0 567.9,707.5 569.8,706.0 571.2,704.5 572.5,703.0 573.5,701.5 574.5,699.4 576.0,697.4 577.5,696.1 579.0,695.4 582.0,694.6 583.6,694.0 585.1,692.5 585.3,689.5 585.0,687.3 585.0,686.4 586.5,684.9 588.9,683.5 590.9,682.0 592.1,680.5 592.8,679.0 593.5,676.0 594.0,673.2 594.3,671.5 595.5,669.0 597.0,667.3 598.5,665.5 599.7,664.0 600.5,662.5 600.6,659.5 600.2,656.5 599.8,655.0 598.5,652.1 597.8,650.5 598.2,647.5 598.4,644.5 597.1,641.5 596.9,640.0 597.6,638.5 599.1,637.0 600.4,635.5 601.3,632.5 601.3,629.5 601.5,628.0 602.0,625.0 601.7,622.0 601.3,620.5 600.6,617.5 600.3,614.5 600.2,611.5 600.5,608.5 601.5,606.2 602.2,604.0 603.0,601.8 604.2,599.5 605.1,598.0 606.0,596.3 607.5,594.5 610.5,595.0 612.0,595.6 614.4,596.5 616.5,597.8 618.0,599.0 619.5,600.1 621.0,602.0 621.0,603.6 620.3,605.5 619.7,608.5 621.0,611.5 622.5,612.6 624.0,614.1 625.1,616.0 626.0,617.5 627.1,619.0 628.5,621.3 630.0,623.1 631.5,624.4 633.0,625.8 634.5,627.2 636.0,628.4 637.6,629.5 640.5,630.9 642.0,631.2 645.0,631.9 646.6,632.5 649.1,634.0 650.7,635.5 651.8,637.0 652.9,638.5 654.5,640.0 657.0,640.9 659.0,641.5 661.5,642.6 664.5,642.7 666.0,643.2 668.7,644.5 670.5,645.0 673.5,645.3 676.5,645.0 679.5,645.4 681.1,646.0 684.0,646.6 687.0,646.1 689.2,646.0 691.5,645.6 694.5,644.6 696.0,643.7 697.5,642.6 699.0,641.5 702.0,640.3 705.0,640.3 707.2,640.0 709.5,638.7 711.0,637.8 712.5,637.0 714.5,635.5 715.7,634.0 717.0,632.2 718.5,630.9 721.5,629.8 724.5,629.8 727.5,630.4 729.0,631.1 730.5,632.6 732.0,634.5 733.5,635.7 736.5,637.0 738.0,637.5 741.0,638.0 743.8,638.5 745.5,639.7 745.5,640.3 742.7,641.5 741.0,642.7 740.0,644.5 739.5,646.0 738.7,649.0 738.5,652.0 739.2,655.0 739.6,656.5 740.1,659.5 739.5,662.5 738.4,664.0 737.5,665.5 736.5,667.8 735.7,670.0 735.7,673.0 735.4,676.0 735.0,678.3 734.6,680.5 733.7,683.5 732.8,685.0 731.9,686.5 731.4,689.5 730.6,692.5 730.1,694.0 730.0,697.0 730.1,700.0 729.0,702.3 727.5,704.0 726.0,705.8 724.5,707.4 723.0,708.6 721.5,709.7 720.0,710.9 718.3,712.0 716.5,713.5 715.0,715.0 713.6,716.5 712.4,718.0 711.0,719.5 709.1,721.0 706.9,722.5 705.0,723.3 702.3,724.0 700.5,724.4 697.5,725.2 696.0,726.2 694.5,728.4 694.4,730.0 694.7,731.5 695.1,734.5 695.1,737.5 694.5,739.4 693.4,742.0 692.7,743.5 691.5,746.5 691.4,748.0 691.5,750.9 691.5,752.5 692.2,755.5 691.5,758.0 690.0,758.7 687.0,760.0 685.7,761.5 685.3,763.0 685.5,765.4 685.8,767.5 686.0,770.5 686.0,773.5 685.9,776.5 685.5,778.8 684.1,781.0 682.8,782.5 681.7,784.0 680.6,785.5 679.3,787.0 678.0,789.8 677.7,791.5 676.5,794.5 675.6,796.0 674.6,797.5 673.4,799.0 672.0,800.7 670.5,803.2 669.8,805.0 669.0,807.0 667.7,809.5 666.8,811.0 665.8,812.5 664.2,814.0 662.7,815.5 661.5,817.1 660.0,819.8 659.4,821.5 658.7,824.5 658.3,826.0 657.0,828.1 655.5,829.3 652.6,829.0 651.0,827.7 649.8,826.0 649.1,824.5 648.0,821.7 647.8,820.0 647.9,817.0 647.8,814.0 647.6,811.0 647.4,808.0 647.9,805.0 648.2,803.5 648.5,800.5 648.5,797.5 648.0,795.0 648.0,793.7 649.1,791.5 651.0,790.0 652.0,788.5 651.3,785.5 650.7,784.0 650.4,781.0 650.7,778.0 651.0,776.5 651.6,773.5 652.5,771.3 654.0,769.1 655.5,767.5 657.0,766.1 658.2,764.5 658.9,763.0 660.0,760.5 661.0,758.5 661.5,756.7 662.0,754.0 662.8,751.0 663.3,749.5 664.5,746.5 665.3,745.0 666.1,743.5 667.0,740.5 667.5,738.1 667.8,736.0 666.5,734.5 664.5,734.1 662.5,733.0 663.0,730.9 664.1,728.5 665.5,727.0 666.3,725.5 665.2,724.0 663.0,723.4 661.4,724.0 659.2,725.5 657.0,726.7 655.5,727.5 653.6,728.5 651.0,729.8 649.5,731.2 649.0,733.0 649.4,736.0 649.7,737.5 649.9,740.5 649.4,742.0 647.5,743.5 645.0,744.4 642.5,745.0 641.3,746.5 640.3,748.0 639.0,750.0 637.7,752.5 636.9,754.0 635.7,755.5 633.9,757.0 632.7,758.5 632.9,761.5 633.2,763.0 633.0,764.5 631.5,766.9 630.9,769.0 631.0,772.0 631.5,774.0 632.5,776.5 633.0,778.1 633.4,781.0 633.8,784.0 634.0,787.0 634.0,790.0 633.3,793.0 632.5,794.5 631.5,796.6 630.6,799.0 630.0,800.6 628.9,803.5 628.0,805.0 626.8,806.5 625.5,808.1 624.0,809.9 622.5,811.6 621.0,813.7 620.1,815.5 619.5,817.3 618.9,820.0 618.0,822.6 616.5,824.1 613.5,823.6 612.0,822.7 610.5,820.9 609.8,818.5 609.8,815.5 610.4,812.5 610.7,811.0 611.2,808.0 612.0,805.0 611.8,802.0 611.0,799.0 610.3,797.5 609.0,795.1 608.1,793.0 607.5,791.4 606.0,789.2 604.9,787.0 605.1,784.0 605.8,781.0 606.0,779.4 606.7,776.5 607.4,773.5 607.0,770.5 607.3,767.5 607.5,766.0 607.9,763.0 608.1,760.0 608.9,757.0 609.4,755.5 610.1,752.5 610.0,749.5 609.8,746.5 609.3,743.5 609.0,742.0 607.6,739.0 606.8,737.5 606.0,734.8 606.0,733.1 606.5,731.5 607.5,728.8 608.4,727.0 609.0,725.5 609.6,722.5 609.5,719.5 609.3,716.5 609.1,713.5 608.9,712.0 607.5,709.2 604.5,709.8 603.0,711.5 602.4,713.5 601.5,716.5 600.4,718.0 599.0,719.5 597.3,721.0 595.5,722.2 594.0,723.6 592.8,725.5 591.8,727.0 590.9,728.5 589.5,731.2 588.0,732.7 586.5,734.0 585.5,736.0 585.0,737.6 582.0,738.7 579.0,738.8 577.3,737.5 576.0,734.9 574.5,733.6 573.0,732.9 570.0,732.8 568.5,733.5 567.0,734.8 566.1,737.5 566.6,740.5 567.7,742.0 570.0,743.2 571.5,743.5 571.8,746.5 571.4,748.0 570.0,750.8 568.5,752.0 567.0,753.1 566.6,755.5 567.3,757.0 568.5,758.8 570.0,760.6 571.5,762.6 571.5,764.4 570.1,766.0 568.5,766.8 567.0,768.0 565.6,770.5 565.0,772.0 564.0,773.6 561.8,775.0 560.2,776.5 559.6,779.5 559.9,782.5 560.2,785.5 561.0,788.1 561.5,790.0 561.5,793.0 561.0,794.5 559.5,797.3 558.7,799.0 558.6,802.0 559.2,805.0 558.3,808.0 557.6,809.5 556.9,812.5 557.3,815.5 558.0,818.5 558.0,819.0 557.9,821.5 557.7,824.5 556.5,827.3 555.4,829.0 554.6,830.5 M607.5,596.5 609.0,596.1 610.5,596.5 613.5,597.5 615.0,598.3 616.7,599.5 618.7,601.0 619.7,602.5 619.5,604.0 618.6,607.0 618.6,610.0 619.5,611.5 621.2,613.0 622.8,614.5 624.0,616.3 625.5,618.5 626.8,620.5 627.6,622.0 628.8,623.5 630.7,625.0 632.4,626.5 634.0,628.0 635.9,629.5 637.5,630.7 639.0,631.4 642.0,632.2 643.5,632.5 646.5,633.4 648.0,634.3 649.5,635.5 651.0,637.6 652.5,639.9 654.0,641.3 655.5,641.9 658.5,642.8 660.0,643.9 663.0,644.3 665.6,644.5 667.5,645.2 670.2,646.0 672.0,646.4 675.0,646.9 678.0,646.6 681.0,647.5 682.5,647.9 685.2,647.5 687.0,647.0 690.0,646.8 693.0,646.2 694.5,645.7 696.4,644.5 698.3,643.0 700.5,641.7 702.0,641.3 704.6,641.5 706.5,641.6 708.0,641.4 709.8,640.0 711.8,638.5 714.0,637.2 715.5,635.8 716.9,634.0 718.3,632.5 720.0,631.5 723.0,631.1 726.0,631.2 728.7,632.5 730.1,634.0 731.3,635.5 733.5,637.0 735.0,637.6 737.6,638.5 739.5,639.8 739.6,641.5 739.1,643.0 738.3,646.0 738.0,647.5 737.5,650.5 737.8,653.5 738.1,655.0 738.7,658.0 738.8,661.0 738.0,662.5 736.5,664.6 735.1,667.0 734.2,668.5 734.0,671.5 734.2,674.5 733.7,677.5 733.5,679.0 732.6,682.0 731.7,683.5 730.4,685.0 729.6,688.0 729.6,691.0 729.0,692.7 728.3,695.5 728.1,698.5 727.5,700.7 726.0,702.7 724.6,704.5 723.0,705.9 721.5,706.8 720.0,708.0 718.5,709.7 717.0,711.2 715.5,712.7 714.0,714.3 712.5,715.9 711.0,717.6 709.5,718.9 708.0,719.9 705.6,721.0 703.5,721.4 700.5,722.0 698.3,722.5 696.0,723.2 694.5,724.0 693.0,725.9 691.9,728.5 692.6,731.5 693.2,733.0 693.7,736.0 693.1,739.0 692.5,740.5 691.5,742.8 690.5,745.0 690.0,747.2 689.8,749.5 689.1,752.5 688.5,754.0 687.0,756.2 685.5,757.5 684.0,758.8 682.5,760.4 681.2,763.0 680.9,764.5 681.0,767.0 682.0,769.0 682.8,770.5 683.3,773.5 683.7,776.5 682.9,779.5 681.9,781.0 681.0,782.5 679.5,784.4 678.0,785.7 676.5,787.4 675.3,790.0 674.8,791.5 674.1,794.5 673.5,796.0 672.0,798.2 670.5,800.0 669.1,802.0 668.4,803.5 667.5,805.6 666.3,808.0 665.3,809.5 664.0,811.0 662.7,812.5 661.5,814.0 660.0,816.7 659.2,818.5 658.5,820.1 657.5,823.0 656.7,824.5 654.5,826.0 653.8,826.0 651.5,824.5 650.2,823.0 649.5,821.5 649.3,818.5 649.2,815.5 649.1,812.5 648.8,809.5 649.1,806.5 649.5,804.9 650.1,802.0 650.2,799.0 650.1,796.0 651.0,793.2 652.5,792.0 654.0,791.1 655.4,788.5 654.1,785.5 653.2,784.0 652.6,781.0 653.0,778.0 653.8,775.0 654.3,773.5 655.5,771.3 657.0,769.8 658.5,768.6 660.0,767.0 661.3,764.5 662.3,763.0 663.6,761.5 664.5,759.5 665.1,757.0 665.2,754.0 666.0,751.1 667.0,749.5 668.1,748.0 669.7,746.5 671.9,745.0 673.2,743.5 673.8,742.0 674.0,739.0 673.5,737.0 672.9,734.5 672.7,731.5 673.5,728.9 673.9,727.0 673.9,724.0 673.5,721.9 672.0,720.0 670.5,719.0 669.0,717.9 667.5,715.5 666.6,713.5 665.8,712.0 664.5,709.7 663.0,707.5 662.9,707.5 662.3,710.5 662.0,713.5 661.5,715.1 660.0,717.3 658.5,719.0 657.0,720.2 654.0,720.6 651.4,721.0 649.6,722.5 648.5,724.0 646.9,725.5 645.2,727.0 643.9,728.5 642.8,730.0 641.7,731.5 640.5,733.9 640.2,736.0 639.9,739.0 639.0,741.0 637.9,743.5 637.4,745.0 636.5,748.0 635.8,749.5 634.5,752.0 633.0,753.4 631.5,754.5 630.0,756.6 629.5,758.5 629.4,761.5 628.7,764.5 628.1,766.0 627.6,769.0 628.0,772.0 628.5,773.9 629.3,776.5 630.0,778.5 630.9,781.0 631.5,782.5 632.2,785.5 632.4,788.5 632.0,791.5 631.3,793.0 630.0,795.3 629.1,797.5 628.5,799.3 627.3,802.0 626.4,803.5 625.3,805.0 624.0,806.9 622.5,809.1 621.0,811.0 619.7,812.5 618.5,814.0 617.7,815.5 616.9,818.5 616.1,820.0 614.6,820.0 613.4,818.5 613.5,816.2 614.2,814.0 614.8,811.0 615.0,808.0 615.1,806.5 615.2,803.5 614.9,802.0 614.4,799.0 613.5,796.8 612.2,794.5 611.6,793.0 610.7,790.0 610.2,788.5 609.1,785.5 610.5,782.8 612.0,781.7 613.5,780.5 614.3,778.0 613.5,775.7 612.8,773.5 612.2,770.5 611.9,769.0 611.6,766.0 611.8,763.0 612.0,761.5 613.1,758.5 613.5,755.5 613.7,754.0 613.6,751.0 613.4,749.5 613.0,746.5 612.8,743.5 613.2,740.5 613.5,738.8 613.8,736.0 614.6,733.0 615.0,731.2 615.2,728.5 614.9,727.0 614.1,724.0 613.8,721.0 613.9,718.0 614.3,715.0 613.5,712.1 613.1,710.5 612.5,707.5 612.2,704.5 612.0,702.8 609.0,702.9 607.5,704.0 606.0,704.9 604.3,706.0 602.7,707.5 601.5,709.3 600.6,712.0 600.0,713.8 598.5,716.2 597.0,718.0 595.5,719.5 594.0,720.5 592.5,721.8 591.0,723.8 589.8,725.5 588.8,727.0 587.8,728.5 585.7,730.0 583.5,730.6 580.5,731.1 577.5,731.3 574.5,730.6 571.5,730.4 568.5,731.1 567.0,731.8 565.3,733.0 564.0,734.6 563.5,737.5 563.9,740.5 564.1,742.0 564.0,744.7 563.3,746.5 562.1,748.0 560.4,749.5 559.3,751.0 558.7,754.0 559.0,757.0 559.7,758.5 559.7,761.5 558.6,763.0 557.2,764.5 555.0,765.6 552.0,764.8 549.2,766.0 551.3,767.5 553.3,769.0 554.5,770.5 553.8,773.5 552.0,774.9 550.6,776.5 550.0,778.0 549.0,780.7 548.0,782.5 546.8,784.0 545.3,785.5 543.2,787.0 541.5,787.7 539.9,788.5 538.3,790.0 535.9,791.5 534.0,792.7 532.5,793.8 531.0,794.9 528.4,796.0 526.8,796.0 525.0,795.7 522.0,794.9 520.5,794.0 519.0,792.8 517.5,790.9 516.0,788.6 514.7,787.0 513.6,785.5 514.0,782.5 514.8,781.0 515.4,778.0 515.6,775.0 516.0,773.5 517.5,771.5 519.0,770.4 522.0,769.4 525.0,769.3 526.8,769.0 529.5,767.9 531.0,767.4 534.0,766.8 535.8,766.0 537.0,763.9 537.7,761.5 538.0,758.5 537.0,755.9 535.9,754.0 536.3,751.0 537.0,748.5 537.3,746.5 538.1,743.5 539.1,742.0 540.4,740.5 541.6,739.0 543.0,736.8 544.5,734.8 545.7,733.0 546.7,731.5 548.2,730.0 549.6,728.5 550.9,727.0 552.5,725.5 554.2,724.0 555.8,722.5 557.5,721.0 558.9,719.5 560.2,718.0 561.3,716.5 562.5,714.9 564.0,713.3 565.5,711.8 567.0,710.4 568.6,709.0 570.2,707.5 571.6,706.0 573.0,704.2 574.5,702.3 576.0,700.2 577.5,698.8 579.0,698.1 582.0,697.1 583.5,696.5 585.2,695.5 586.7,694.0 587.5,691.0 588.0,688.2 589.3,686.5 591.0,685.0 592.5,683.6 593.9,682.0 594.8,680.5 595.5,678.2 596.2,676.0 597.0,674.3 598.5,671.6 599.1,670.0 600.0,668.2 601.5,666.6 603.0,664.6 603.4,662.5 603.1,659.5 602.9,658.0 602.6,655.0 602.3,652.0 602.7,649.0 601.8,646.0 601.4,644.5 600.9,641.5 601.6,640.0 603.0,637.0 603.5,635.5 603.7,632.5 603.6,629.5 604.2,626.5 604.4,623.5 603.6,620.5 602.9,619.0 602.2,616.0 602.2,613.0 602.5,610.0 603.0,608.4 603.5,605.5 604.0,602.5 604.7,601.0 606.0,598.7 607.5,596.5 M749.5,601.0 751.5,599.9 754.5,599.7 757.5,599.9 760.5,600.6 762.0,601.1 765.0,601.7 768.0,602.1 771.0,602.5 772.5,603.5 773.5,605.5 773.8,608.5 773.4,611.5 772.4,613.0 770.4,614.5 768.0,615.8 766.5,616.9 765.0,618.6 763.5,620.1 762.0,621.1 760.5,622.1 758.2,623.5 756.0,624.4 753.0,624.5 750.5,623.5 748.5,622.1 747.3,620.5 746.5,619.0 745.5,616.8 745.1,614.5 745.3,611.5 745.7,610.0 746.6,607.0 747.0,605.3 748.2,602.5 749.5,601.0 M547.1,805.0 549.0,804.8 550.7,805.0 550.5,806.8 549.0,808.6 549.0,810.8 550.5,811.5 552.0,812.5 553.5,815.2 553.9,817.0 554.1,820.0 553.5,822.8 552.5,824.5 550.5,825.4 547.5,825.6 544.9,826.0 543.0,826.2 541.5,825.5 540.0,824.4 538.3,823.0 536.4,821.5 534.5,820.0 533.2,818.5 532.5,816.1 532.3,814.0 532.5,812.3 534.0,809.6 535.5,808.6 537.0,807.9 540.0,806.9 541.5,806.3 544.5,805.4 547.1,805.0 M608.2,598.0 610.5,597.9 612.0,598.5 614.2,599.5 616.5,601.0 617.7,602.5 617.0,605.5 616.8,608.5 617.9,611.5 619.3,613.0 621.0,614.3 622.5,616.0 623.4,617.5 624.4,619.0 625.5,620.7 627.0,623.4 628.5,624.8 630.0,625.9 631.5,627.0 633.0,628.4 634.5,629.6 636.2,631.0 638.8,632.5 640.5,633.0 643.5,633.5 645.4,634.0 648.0,635.3 649.5,637.0 650.5,638.5 651.4,640.0 652.5,641.6 654.8,643.0 657.0,643.8 658.5,644.8 660.0,646.2 663.0,646.1 664.5,645.8 666.0,646.0 669.0,646.8 671.2,647.5 673.5,648.5 676.5,648.9 679.4,649.0 681.0,649.3 684.0,649.3 685.5,648.7 688.5,647.8 690.9,647.5 693.0,647.2 696.0,646.1 697.5,644.9 699.0,643.6 700.5,642.7 703.5,642.6 706.4,643.0 708.0,643.1 709.5,642.4 711.0,640.6 712.5,639.4 714.0,638.4 715.8,637.0 717.1,635.5 718.5,633.9 720.9,632.5 723.0,632.2 726.0,632.4 727.5,633.2 729.0,635.0 730.5,636.9 732.0,638.1 733.5,638.8 736.5,639.8 737.6,641.5 737.3,644.5 736.8,647.5 736.6,650.5 736.8,653.5 737.1,656.5 737.6,659.5 736.5,662.3 735.1,664.0 733.9,665.5 732.7,667.0 731.9,668.5 732.0,670.4 732.6,673.0 732.5,676.0 732.0,678.1 731.2,680.5 730.3,682.0 728.9,683.5 727.8,686.5 728.0,689.5 727.5,692.5 727.0,694.0 726.1,697.0 725.6,698.5 724.5,700.2 723.0,702.1 721.5,703.3 719.0,704.5 717.9,706.0 717.0,708.6 715.8,710.5 714.4,712.0 712.8,713.5 711.2,715.0 709.5,716.5 708.0,717.4 705.0,718.0 703.5,718.0 700.5,719.1 699.0,719.8 696.0,721.0 694.5,721.5 692.8,722.5 691.5,724.3 690.3,727.0 690.1,730.0 691.1,733.0 691.6,734.5 691.6,737.5 691.2,739.0 690.1,742.0 689.5,743.5 688.5,746.5 688.2,748.0 687.1,751.0 686.0,752.5 685.0,754.0 683.8,755.5 682.2,757.0 681.0,758.5 679.5,761.0 678.9,763.0 678.5,766.0 678.3,769.0 679.5,770.8 680.8,773.5 680.9,776.5 680.1,779.5 679.5,781.1 678.0,783.0 676.5,784.1 674.9,785.5 673.5,787.4 672.4,790.0 671.8,791.5 671.3,794.5 670.5,796.7 669.0,798.5 667.5,799.9 666.0,801.6 664.5,803.5 663.3,805.0 661.8,806.5 660.4,808.0 659.8,809.5 658.6,812.5 658.4,814.0 658.0,817.0 657.0,819.7 656.2,821.5 655.3,823.0 652.5,823.2 651.2,821.5 650.8,820.0 650.7,817.0 650.7,814.0 650.5,811.0 650.5,808.0 651.0,806.3 652.2,803.5 652.4,800.5 652.3,797.5 652.7,796.0 654.1,794.5 657.0,793.5 658.5,792.2 659.2,790.0 658.5,787.9 657.0,785.5 655.6,784.0 654.8,782.5 655.0,779.5 655.5,777.9 656.6,775.0 657.6,773.5 659.1,772.0 660.8,770.5 662.7,769.0 664.4,767.5 665.4,766.0 666.6,764.5 667.8,763.0 669.0,760.0 669.1,758.5 669.4,755.5 670.4,752.5 671.6,751.0 673.5,750.0 675.0,749.4 677.5,748.0 678.8,746.5 679.0,743.5 678.3,740.5 678.0,738.7 677.1,736.0 676.6,733.0 677.2,730.0 677.5,727.0 677.5,724.0 677.4,721.0 676.5,718.2 675.8,716.5 674.9,715.0 673.5,713.5 671.4,712.0 669.8,710.5 668.9,709.0 668.1,706.0 667.6,703.0 667.7,700.0 667.5,698.5 664.5,698.3 663.0,699.0 661.5,700.0 658.8,701.5 657.0,702.8 655.9,704.5 656.4,707.5 656.5,710.5 655.5,712.8 654.0,714.1 651.0,715.0 649.5,715.3 647.1,716.5 645.3,718.0 643.9,719.5 642.3,721.0 640.9,722.5 640.1,724.0 639.1,727.0 638.7,728.5 637.5,730.9 636.2,733.0 635.8,734.5 635.3,737.5 634.5,740.4 634.0,742.0 633.3,745.0 632.9,746.5 631.5,749.4 630.1,751.0 628.5,752.0 627.0,753.1 625.5,754.4 624.0,756.9 623.0,758.5 622.5,760.9 620.6,760.0 619.5,758.5 618.9,755.5 619.0,752.5 619.5,749.9 621.0,748.5 622.5,746.5 623.2,745.0 623.1,742.0 622.3,740.5 621.0,738.5 619.5,736.6 618.3,734.5 618.1,731.5 618.1,728.5 617.9,727.0 617.8,724.0 618.2,722.5 619.5,720.6 621.0,718.3 621.0,716.5 620.5,715.0 619.5,712.6 618.6,710.5 617.8,709.0 616.5,706.5 615.9,704.5 615.5,701.5 615.0,698.9 613.5,697.1 612.0,696.5 609.0,696.7 607.8,698.5 607.3,700.0 606.0,701.7 603.9,703.0 602.1,704.5 600.6,706.0 599.7,707.5 599.0,710.5 598.5,712.2 597.0,714.4 595.5,716.5 594.1,718.0 592.5,719.2 591.0,720.4 589.5,722.3 588.1,724.0 586.7,725.5 585.0,727.0 583.5,727.3 580.5,727.8 577.5,728.3 574.5,727.6 571.5,728.0 569.7,728.5 567.0,729.3 565.0,730.0 562.8,731.5 561.6,733.0 560.9,734.5 560.7,737.5 560.9,740.5 560.3,743.5 559.3,745.0 558.0,746.5 556.7,749.5 556.3,751.0 555.4,754.0 554.3,755.5 552.1,757.0 550.5,758.5 549.0,759.7 547.5,760.9 546.0,762.6 544.9,764.5 545.0,767.5 546.0,770.4 546.2,772.0 546.0,774.5 545.6,776.5 545.2,779.5 544.5,781.2 543.0,782.6 540.7,784.0 538.5,785.0 537.0,785.9 535.3,787.0 533.1,788.5 531.0,789.9 529.5,790.6 528.0,791.8 525.0,792.6 522.1,791.5 520.8,790.0 520.1,788.5 519.7,785.5 519.9,782.5 520.5,779.5 520.6,778.0 520.7,775.0 522.0,773.1 525.0,772.4 528.0,772.0 529.5,771.6 532.5,770.7 534.0,770.2 535.5,768.9 537.2,767.5 538.6,766.0 539.8,763.0 540.1,761.5 540.7,758.5 540.3,755.5 539.8,754.0 539.5,751.0 539.9,748.0 540.1,746.5 541.4,743.5 542.2,742.0 543.0,740.5 544.5,738.0 546.0,736.0 547.0,734.5 547.9,733.0 549.1,731.5 550.5,729.8 552.0,727.8 553.5,726.2 555.0,724.7 556.5,723.1 558.0,721.7 559.5,720.1 561.0,718.3 562.5,716.5 564.0,715.1 565.5,713.9 567.0,712.7 568.5,711.4 570.0,710.1 571.5,708.6 573.0,706.5 574.5,704.6 576.0,703.1 577.5,701.8 579.0,700.9 581.2,700.0 583.5,698.9 585.0,697.9 586.5,696.9 588.0,695.4 589.3,692.5 589.5,691.0 591.0,688.3 592.5,686.9 594.0,685.6 595.5,684.3 597.0,682.0 597.4,680.5 598.2,677.5 598.9,676.0 600.0,673.9 601.5,671.7 602.9,670.0 604.1,668.5 605.3,667.0 606.0,665.5 606.1,662.5 606.0,661.0 605.7,658.0 606.0,655.6 606.7,653.5 607.5,651.5 607.8,649.0 607.5,646.2 606.8,644.5 606.0,642.7 605.4,640.0 606.0,637.7 607.1,635.5 607.5,634.0 607.5,631.8 607.2,629.5 607.5,626.7 608.2,625.0 607.8,622.0 606.9,620.5 605.9,619.0 604.6,616.0 604.4,614.5 604.5,613.0 604.9,610.0 605.2,607.0 605.1,604.0 605.9,601.0 606.8,599.5 608.2,598.0 M751.9,602.5 754.5,602.4 756.0,602.8 759.0,603.7 760.5,604.1 763.5,604.4 766.5,604.8 769.5,605.1 771.0,606.0 771.4,608.5 771.0,610.0 769.5,612.1 768.0,613.2 766.0,614.5 764.2,616.0 762.6,617.5 761.0,619.0 759.3,620.5 757.5,621.7 756.0,622.2 753.1,622.0 751.5,621.2 750.0,619.9 748.5,617.5 747.8,616.0 747.2,613.0 747.6,610.0 748.5,607.0 749.0,605.5 750.0,603.8 751.9,602.5 M621.0,779.5 622.5,778.7 624.3,779.5 625.8,781.0 627.0,782.8 628.5,784.6 629.6,787.0 629.2,790.0 628.5,791.6 627.0,793.0 625.7,796.0 625.5,798.8 624.4,800.5 622.9,802.0 621.4,802.0 620.1,800.5 619.0,799.0 618.0,797.5 616.5,795.0 615.6,793.0 615.0,791.0 615.0,789.8 616.5,787.7 618.0,786.9 620.0,785.5 620.3,782.5 621.0,779.5 M608.6,599.5 610.5,599.5 612.0,600.2 613.5,601.1 615.0,603.8 615.0,604.0 614.4,607.0 615.0,610.0 615.9,611.5 617.2,613.0 619.0,614.5 620.8,616.0 621.8,617.5 622.6,619.0 624.0,621.3 625.3,623.5 626.5,625.0 628.4,626.5 630.0,627.5 631.5,628.6 633.0,629.7 634.6,631.0 636.5,632.5 639.0,633.7 640.5,634.0 643.5,634.6 646.4,635.5 648.0,636.7 649.3,638.5 650.2,640.0 651.2,641.5 652.5,643.1 654.6,644.5 657.0,645.8 658.5,647.2 660.0,648.3 663.0,648.4 666.0,647.9 669.0,648.4 670.7,649.0 673.5,650.4 675.0,650.6 678.0,650.9 681.0,651.3 684.0,650.8 685.5,650.1 687.7,649.0 690.0,648.6 693.0,648.5 696.0,647.8 697.5,646.6 699.0,645.0 700.5,644.1 703.5,644.1 705.5,644.5 708.0,645.7 709.5,646.2 710.7,644.5 711.3,643.0 712.5,641.1 714.0,639.9 716.1,638.5 717.7,637.0 718.9,635.5 720.9,634.0 723.0,633.4 726.0,633.9 727.4,635.5 728.4,637.0 729.5,638.5 731.1,640.0 733.3,641.5 735.0,642.8 735.4,644.5 735.3,647.5 735.3,650.5 735.6,653.5 735.7,656.5 736.0,659.5 735.0,661.7 733.5,663.2 732.0,664.4 730.1,665.5 728.6,667.0 729.0,669.4 730.0,671.5 730.6,673.0 730.5,675.7 729.9,677.5 729.0,679.4 727.5,681.4 726.4,683.5 726.0,685.7 725.9,688.0 726.0,691.0 725.0,694.0 724.2,695.5 723.0,697.2 721.5,698.8 720.0,700.2 718.5,701.6 717.0,703.2 715.6,706.0 715.2,707.5 714.0,710.0 712.5,711.5 711.0,712.7 709.5,713.6 706.5,714.5 703.5,714.3 700.9,715.0 699.0,716.0 697.5,716.9 695.7,718.0 693.0,719.5 691.5,720.6 690.0,722.3 688.7,724.0 687.8,725.5 687.2,728.5 687.7,731.5 688.4,734.5 688.1,737.5 687.0,739.8 685.5,740.7 684.0,740.1 682.8,737.5 683.4,734.5 684.0,732.5 684.6,730.0 684.4,727.0 684.0,725.5 683.6,722.5 682.8,719.5 682.4,718.0 681.4,715.0 680.6,713.5 679.5,712.0 678.0,710.5 676.4,709.0 675.0,707.4 673.5,704.8 673.0,703.0 673.4,700.0 673.7,698.5 673.5,697.0 672.0,694.7 670.5,693.7 667.5,693.2 664.5,692.9 663.0,692.1 661.5,690.9 658.5,690.7 657.0,691.5 655.2,692.5 653.6,694.0 652.2,695.5 650.6,697.0 648.6,698.5 647.5,700.0 647.8,703.0 648.2,704.5 648.7,707.5 648.0,709.1 646.3,710.5 643.5,710.8 640.5,710.8 638.0,712.0 636.0,713.5 634.5,714.9 633.0,716.0 631.5,714.8 630.0,713.5 628.3,712.0 626.9,710.5 625.6,707.5 625.8,704.5 624.9,703.0 624.0,701.5 624.3,700.0 625.0,697.0 624.5,694.0 623.8,692.5 621.7,691.0 619.5,690.3 616.5,690.0 615.0,689.5 613.5,688.0 611.2,688.0 609.0,688.3 606.0,689.3 604.5,690.7 603.5,692.5 603.3,695.5 603.0,697.6 601.5,700.0 600.0,701.2 598.5,702.3 597.0,703.7 596.2,706.0 596.2,709.0 595.6,712.0 594.7,713.5 593.9,715.0 592.5,716.5 590.3,718.0 588.6,719.5 587.5,721.0 586.2,722.5 583.6,724.0 582.0,724.1 580.5,723.9 577.5,723.7 574.5,723.9 573.0,724.1 570.0,725.1 568.5,725.6 565.5,726.3 563.8,727.0 561.3,728.5 559.9,730.0 558.9,731.5 558.0,733.8 557.3,736.0 556.8,739.0 556.4,740.5 555.1,743.5 554.8,745.0 554.0,748.0 553.5,749.9 552.4,752.5 550.8,754.0 549.0,755.1 547.5,755.8 544.5,755.5 544.0,754.0 543.6,751.0 543.2,748.0 543.9,745.0 544.5,743.0 545.7,740.5 546.7,739.0 547.7,737.5 549.0,735.3 550.5,733.0 551.6,731.5 552.6,730.0 553.6,728.5 555.0,726.8 556.5,725.0 558.0,723.4 559.5,721.8 561.0,720.0 562.5,718.2 564.0,716.9 565.5,716.0 567.1,715.0 569.3,713.5 571.2,712.0 572.9,710.5 574.0,709.0 575.0,707.5 577.0,706.0 579.0,705.5 582.0,704.6 583.5,704.0 585.1,703.0 586.5,700.6 588.0,698.8 589.5,697.2 590.8,695.5 591.4,694.0 592.3,691.0 593.6,689.5 595.5,688.1 597.0,686.9 598.5,685.6 599.9,683.5 600.2,682.0 600.9,679.0 601.5,677.4 603.0,674.5 604.2,673.0 605.7,671.5 607.0,670.0 608.4,668.5 609.6,667.0 610.3,664.0 609.9,661.0 609.5,658.0 609.7,655.0 610.5,652.8 611.2,650.5 611.3,647.5 610.5,644.6 609.9,643.0 609.3,640.0 610.4,637.0 611.2,635.5 612.0,633.4 613.0,631.0 613.6,629.5 614.7,626.5 614.8,623.5 613.5,620.9 612.0,620.4 609.0,619.0 607.8,617.5 607.1,616.0 607.0,613.0 607.2,610.0 607.1,607.0 606.5,604.0 607.2,601.0 608.6,599.5 M751.9,605.5 754.5,605.0 756.3,605.5 759.0,606.1 762.0,606.7 763.5,607.1 766.1,608.5 766.5,610.0 765.8,611.5 764.1,613.0 762.2,614.5 760.5,615.9 759.0,617.3 757.5,618.5 756.0,619.1 754.0,619.0 751.5,618.0 750.3,616.0 749.8,614.5 749.5,611.5 750.0,608.6 750.7,607.0 751.9,605.5 M629.5,724.0 630.2,724.0 630.0,726.9 628.5,727.8 625.5,728.0 625.1,725.5 627.0,724.5 629.5,724.0 M677.6,754.0 678.2,754.0 678.0,756.0 677.2,758.5 676.5,761.3 676.3,763.0 675.9,766.0 675.0,767.9 673.5,770.5 673.1,772.0 673.3,775.0 674.3,776.5 675.4,778.0 675.0,780.6 673.5,782.4 672.0,783.9 670.5,785.5 669.6,787.0 669.0,789.3 668.0,791.5 666.0,792.7 664.6,790.0 664.3,788.5 663.6,785.5 661.5,784.2 660.0,783.6 658.5,782.5 658.5,780.8 659.5,778.0 660.0,776.3 661.5,774.4 663.0,772.9 664.5,771.5 666.0,770.2 667.5,768.6 669.0,766.8 670.5,764.9 671.8,763.0 672.7,761.5 673.5,759.1 674.3,757.0 675.0,755.3 677.6,754.0 M533.3,775.0 534.3,775.0 535.6,776.5 534.0,777.7 532.5,778.7 530.4,778.0 529.2,776.5 531.0,775.8 533.3,775.0 M653.9,811.0 654.1,811.0 654.8,814.0 654.7,817.0 654.0,819.0 653.5,817.0 653.0,814.0 653.9,811.0 M608.6,602.5 610.5,601.8 612.0,603.6 612.0,605.5 611.5,607.0 611.1,610.0 612.5,611.5 614.1,613.0 615.2,614.5 613.5,615.5 611.2,614.5 610.4,613.0 610.3,610.0 609.9,607.0 609.0,605.3 608.6,602.5 M753.8,608.5 756.0,608.1 759.0,608.5 760.5,609.4 760.5,611.0 759.0,612.1 757.5,613.1 756.0,614.5 753.8,614.5 753.0,613.0 752.8,610.0 753.8,608.5 M622.4,626.5 624.0,626.0 625.5,626.7 627.2,628.0 629.7,629.5 631.5,630.4 633.0,631.3 634.6,632.5 636.7,634.0 639.0,634.9 641.8,635.5 643.5,636.0 646.4,637.0 648.0,638.5 649.0,640.0 649.9,641.5 651.0,643.1 652.5,644.8 654.1,646.0 656.3,647.5 658.1,649.0 660.0,650.1 661.7,650.5 664.5,650.7 667.5,650.9 670.5,652.0 672.0,652.3 675.0,652.4 678.0,653.1 679.5,653.7 681.3,653.5 684.0,652.4 685.5,651.7 687.8,650.5 690.0,650.1 693.0,650.4 694.5,650.7 696.0,650.5 698.1,649.0 699.2,647.5 701.2,646.0 702.7,646.0 705.0,646.8 706.5,647.8 708.1,649.0 711.0,649.2 712.4,647.5 713.0,646.0 713.8,643.0 715.5,641.6 717.0,640.7 718.5,639.4 720.0,637.7 721.5,636.0 723.0,635.2 724.7,635.5 726.0,637.1 727.3,640.0 728.1,641.5 729.2,643.0 730.5,644.5 732.0,646.4 733.2,649.0 733.7,650.5 734.0,653.5 733.7,656.5 733.7,659.5 732.2,661.0 730.5,662.0 729.0,662.9 727.3,664.0 726.0,665.7 724.7,668.5 724.2,670.0 724.8,671.5 726.2,673.0 726.1,676.0 725.3,677.5 724.5,679.3 723.7,682.0 723.4,685.0 723.3,688.0 723.2,691.0 722.8,692.5 721.5,694.7 720.0,696.3 718.5,697.6 717.0,698.8 715.5,700.2 714.0,702.5 713.2,704.5 712.5,706.5 711.0,709.0 709.5,710.1 708.0,710.8 705.0,711.1 702.0,710.7 699.0,711.2 696.4,712.0 694.5,712.6 691.6,713.5 690.0,714.0 687.8,713.5 686.6,712.0 685.5,709.2 684.9,707.5 684.0,706.0 682.5,704.4 681.0,703.0 680.0,700.0 679.5,697.0 679.3,695.5 678.5,692.5 677.1,691.0 675.0,690.5 672.0,689.9 669.0,689.6 667.5,689.4 664.7,688.0 663.3,686.5 662.0,685.0 660.2,683.5 658.5,683.1 656.4,683.5 654.2,685.0 652.5,685.9 650.5,686.5 648.0,687.0 645.4,688.0 643.5,688.6 640.5,688.6 638.7,688.0 637.5,685.0 637.5,682.0 637.4,680.5 636.9,677.5 636.5,674.5 636.6,671.5 637.4,668.5 634.5,667.1 632.8,667.0 630.0,666.4 627.3,665.5 625.5,665.0 623.0,665.5 621.0,666.0 619.2,665.5 618.5,662.5 618.0,661.0 616.6,658.0 616.0,656.5 615.5,653.5 615.9,650.5 615.6,647.5 615.0,645.4 614.4,643.0 615.0,640.8 616.5,639.8 618.0,640.0 621.0,640.8 622.5,639.5 623.2,637.0 623.3,634.0 622.5,631.9 621.1,629.5 622.4,626.5 M583.4,709.0 585.0,708.5 588.0,708.3 589.5,709.0 590.2,712.0 589.5,713.7 588.0,715.2 586.5,716.5 583.5,718.0 580.5,716.8 579.0,716.2 578.1,713.5 579.2,712.0 581.0,710.5 583.4,709.0 M628.8,634.0 631.5,633.1 633.4,634.0 636.0,635.4 637.5,636.1 640.5,636.9 642.0,637.6 644.8,638.5 646.5,639.6 648.0,641.2 649.1,643.0 650.1,644.5 651.2,646.0 652.8,647.5 654.9,649.0 656.8,650.5 658.5,651.5 660.0,652.0 663.0,653.0 664.6,653.5 667.5,654.9 669.0,655.4 672.0,655.1 673.5,654.8 676.0,655.0 678.0,656.0 679.5,656.6 681.6,656.5 683.9,655.0 685.5,654.1 687.0,653.4 690.0,653.0 692.0,653.5 694.5,654.6 697.5,654.3 699.3,653.5 701.4,652.0 703.5,650.9 706.5,651.7 708.0,652.3 711.0,653.2 713.3,652.0 714.1,650.5 715.5,647.5 716.4,646.0 718.5,644.5 720.0,644.2 722.0,644.5 723.7,646.0 724.5,647.5 726.0,650.1 727.5,651.8 727.5,653.5 727.2,655.0 727.2,658.0 726.0,660.9 724.7,662.5 723.6,664.0 722.5,665.5 721.0,667.0 719.5,668.5 718.3,670.0 717.1,673.0 716.6,674.5 715.5,677.2 714.4,679.0 713.1,680.5 712.4,682.0 711.0,684.1 708.0,684.1 706.5,683.2 703.5,683.3 702.0,684.0 699.0,684.8 697.5,685.2 694.5,686.5 693.0,687.1 690.0,686.6 688.5,685.8 685.5,685.4 682.5,685.1 681.0,684.5 678.0,683.9 675.0,683.5 673.5,683.4 670.5,683.0 667.5,682.1 666.0,681.4 664.4,680.5 661.7,679.0 660.0,678.1 658.5,677.4 655.5,677.1 652.5,676.9 651.0,675.7 649.5,673.9 648.0,671.8 646.5,670.2 645.0,668.6 643.9,667.0 642.7,665.5 640.8,664.0 639.0,662.6 637.5,661.6 636.0,660.8 633.3,659.5 631.5,658.3 630.0,656.9 628.6,655.0 627.5,653.5 626.6,652.0 625.5,649.7 625.0,647.5 625.4,644.5 625.8,643.0 627.0,640.3 627.9,638.5 628.5,635.5 628.8,634.0 M693.0,697.0 696.0,697.0 697.5,697.7 698.8,700.0 696.0,700.6 694.5,699.7 693.0,697.0 M638.4,644.5 640.5,644.1 643.5,643.7 645.2,644.5 645.4,647.5 643.5,648.9 640.5,648.0 639.0,647.1 638.4,644.5 M644.5,655.0 646.5,653.5 649.5,654.0 652.5,654.3 655.5,654.6 657.3,655.0 660.0,656.1 661.5,657.1 663.0,658.2 666.0,659.4 669.0,659.2 672.0,658.6 675.0,658.8 677.0,659.5 679.5,660.7 681.0,661.4 684.0,662.4 687.0,661.1 688.5,660.3 691.5,660.1 694.5,660.5 697.5,660.7 699.0,661.3 700.7,662.5 702.0,664.0 703.5,666.5 703.8,668.5 703.4,670.0 702.2,673.0 700.8,674.5 699.6,674.5 697.5,673.3 696.0,672.8 693.0,672.6 690.0,673.0 688.5,673.1 685.5,673.1 684.0,672.9 681.4,671.5 679.5,671.4 678.0,672.4 676.5,674.4 675.0,675.9 673.5,676.2 671.8,676.0 669.0,675.2 666.4,674.5 664.6,673.0 663.9,671.5 663.0,669.9 660.0,668.9 658.5,668.0 657.0,666.2 655.5,664.3 652.5,664.6 650.1,664.0 648.0,663.0 646.5,662.0 645.0,660.9 643.6,658.0 644.5,655.0"/></g>
<g clip-path="url(#axclip)" stroke="#fff" stroke-opacity="0.45" stroke-width="0.7" fill="none">
<line x1="61.7" y1="145.5" x2="75.3" y2="824.5"/>
<line x1="245.2" y1="145.5" x2="258.8" y2="824.5"/>
<line x1="428.7" y1="145.5" x2="442.3" y2="824.5"/>
<line x1="612.2" y1="145.5" x2="625.8" y2="824.5"/>
<line x1="795.6" y1="145.5" x2="809.2" y2="824.5"/>
<line x1="979.1" y1="145.5" x2="992.7" y2="824.5"/>
<line x1="62.5" y1="207.6" x2="992.5" y2="189.9"/>
<line x1="62.5" y1="295.4" x2="992.5" y2="277.8"/>
<line x1="62.5" y1="383.3" x2="992.5" y2="365.6"/>
<line x1="62.5" y1="471.1" x2="992.5" y2="453.5"/>
<line x1="62.5" y1="559.0" x2="992.5" y2="541.3"/>
<line x1="62.5" y1="646.9" x2="992.5" y2="629.2"/>
<line x1="62.5" y1="734.7" x2="992.5" y2="717.0"/>
<line x1="62.5" y1="822.5" x2="992.5" y2="804.9"/>
</g>
<g fill="none" stroke="#141000" stroke-opacity="0.9" stroke-width="0.6" stroke-linejoin="round">
<path d="M613.2,372.9 611.7,374.6 608.9,373.9 607.0,371.9 607.8,369.7 610.5,369.7 612.6,370.9Z"/>
<path d="M643.0,366.6 641.9,367.7 640.6,367.3 640.2,365.7 641.9,365.4Z"/>
<path d="M653.8,362.3 653.1,363.1 652.0,362.9 652.2,361.8 653.1,361.4Z"/>
<path d="M626.1,390.8 624.0,390.3 622.3,388.5 622.3,386.1 624.1,385.8 626.0,386.3 626.8,388.8Z"/>
<path d="M629.2,389.5 627.8,389.0 626.4,387.6 627.1,385.8 628.5,385.1 630.2,386.2 630.5,388.5Z"/>
<path d="M640.2,394.0 639.3,394.9 638.1,394.7 638.2,393.4 639.4,392.9Z"/>
<path d="M640.5,398.3 639.6,399.1 638.6,398.8 638.6,397.8 639.7,397.2Z"/>
<path d="M655.7,380.0 655.2,380.7 654.5,380.4 654.4,379.6 655.2,379.4Z"/>
<path d="M698.5,400.8 698.6,403.1 696.1,405.2 692.9,405.5 691.8,403.2 693.2,400.4 696.6,399.2Z"/>
<path d="M706.1,386.6 703.7,387.3 701.2,385.9 699.2,383.8 700.2,381.9 703.2,382.0 705.4,384.1Z"/>
<path d="M712.3,392.5 709.6,394.2 705.8,394.8 703.2,392.3 704.1,389.9 707.1,389.2 711.1,389.6Z"/>
<path d="M716.1,393.4 713.7,390.8 711.7,387.6 712.6,384.4 714.7,384.2 716.7,386.5 717.7,390.5Z"/>
<path d="M700.8,390.5 699.2,390.5 697.6,389.9 697.5,388.4 697.9,387.1 699.6,387.6 701.1,388.9Z"/>
<path d="M685.5,413.0 684.9,413.7 684.0,413.5 684.2,412.6 684.9,412.4Z"/>
<path d="M713.8,436.5 712.2,436.5 710.7,435.8 710.1,434.3 710.9,433.1 712.6,433.6 713.6,434.9Z"/>
<path d="M710.8,433.2 709.8,434.2 708.4,434.0 708.5,432.5 709.8,432.2Z"/>
<path d="M735.8,445.7 735.2,447.9 732.7,450.4 731.8,449.5 733.8,446.6Z"/>
<path d="M773.2,388.6 772.4,389.8 771.1,389.2 771.1,388.0 772.4,387.5Z"/>
<path d="M778.3,393.7 776.4,393.7 774.4,392.1 774.9,389.7 776.5,388.7 778.2,390.2 779.3,392.2Z"/>
<path d="M779.4,447.3 777.0,446.9 774.6,445.4 774.0,442.6 775.9,441.9 778.3,442.3 779.8,445.0Z"/>
<path d="M774.1,459.7 772.1,458.2 770.8,455.1 771.7,452.0 773.7,452.7 775.1,454.6 775.7,457.8Z"/>
<path d="M781.1,460.9 778.8,459.3 777.3,456.8 777.5,453.9 779.4,453.6 781.3,455.3 781.9,458.2Z"/>
<path d="M789.2,452.5 787.7,452.9 786.3,451.4 786.0,449.7 786.9,448.5 788.6,449.6 789.8,451.1Z"/>
<path d="M797.1,443.2 796.3,444.1 795.3,443.7 795.1,442.5 796.3,442.3Z"/>
<path d="M805.9,462.8 806.1,464.9 804.1,467.6 803.1,466.4 804.0,463.7Z"/>
<path d="M812.1,460.7 812.5,462.8 810.3,465.3 808.7,464.9 810.3,461.8Z"/>
<path d="M771.4,467.1 769.7,466.0 769.7,463.1 771.5,463.1 772.3,465.4Z"/>
<path d="M753.8,464.6 752.5,464.7 752.0,463.3 752.7,462.3 754.1,463.4Z"/>
<path d="M820.3,435.0 819.9,435.6 819.1,435.5 819.1,434.6 819.9,434.3Z"/>
<path d="M735.7,472.0 735.2,472.6 734.5,472.4 734.4,471.5 735.2,471.4Z"/>
<path d="M949.0,265.6 946.6,267.4 943.3,266.5 941.7,263.8 942.3,260.6 946.0,261.1 948.2,262.9Z"/>
<path d="M944.1,278.5 941.7,277.2 940.5,273.7 941.8,271.2 943.8,270.1 945.7,272.8 945.2,275.9Z"/>
<path d="M950.6,258.5 949.9,259.6 948.6,259.1 948.7,257.9 949.8,257.6Z"/>
<path d="M956.6,231.0 955.8,232.0 954.7,231.6 954.5,230.3 955.8,230.0Z"/>
<path d="M959.9,241.3 958.9,242.2 957.5,242.1 957.6,240.5 959.0,240.0Z"/>
<path d="M958.3,244.6 957.4,245.8 956.1,245.3 956.3,244.1 957.4,243.5Z"/>
<path d="M956.9,190.7 956.6,191.9 955.0,192.6 954.4,191.5 955.7,190.4Z"/>
<path d="M978.2,183.3 977.0,181.6 977.5,179.5 978.8,179.6 979.5,181.7Z"/>
<path d="M955.5,378.5 955.0,379.2 954.3,378.9 954.3,378.1 955.0,377.8Z"/>
<path d="M973.9,395.0 973.2,395.7 972.3,395.5 972.2,394.5 973.3,394.1Z"/>
<path d="M910.4,437.7 909.3,438.6 908.0,438.4 907.9,436.9 909.3,436.8Z"/>
<path d="M928.3,434.9 927.5,434.0 927.8,432.4 928.8,432.5 929.1,434.0Z"/>
<path d="M753.7,464.6 752.9,465.3 752.1,465.0 752.1,464.1 752.9,463.9Z"/>
<path d="M848.4,464.6 848.0,465.6 846.9,465.2 847.1,464.2 848.0,463.7Z"/>
<path d="M872.4,470.8 871.8,471.7 870.7,471.4 870.6,470.2 871.8,469.8Z"/>
<path d="M736.8,482.0 736.2,482.7 735.4,482.4 735.5,481.6 736.3,481.2Z"/>
<path d="M747.9,481.0 747.2,481.7 746.5,481.4 746.4,480.6 747.2,480.3Z"/>
<path d="M772.0,479.5 771.3,480.6 770.2,480.1 770.1,478.8 771.3,478.5Z"/>
<path d="M779.7,481.6 778.1,482.3 776.4,481.2 776.8,479.7 778.9,480.1Z"/>
<path d="M901.2,530.5 900.3,531.5 899.2,531.1 899.1,529.8 900.4,529.4Z"/>
<path d="M901.4,533.6 900.8,534.7 899.5,534.3 899.3,532.8 900.8,532.3Z"/>
<path d="M932.7,560.8 931.7,562.3 929.4,561.7 929.7,560.1 931.6,559.5Z"/>
<path d="M979.5,597.7 978.9,599.0 977.5,598.5 977.4,596.9 978.9,596.4Z"/>
<path d="M563.2,437.3 562.6,438.1 561.6,437.8 561.8,436.9 562.6,436.5Z"/>
<path d="M563.4,443.0 562.9,443.8 561.7,443.7 561.9,442.5 562.9,442.2Z"/>
<path d="M439.3,756.0 438.9,756.8 438.2,756.4 438.2,755.7 438.9,755.2Z"/>
<path d="M421.3,774.7 420.9,775.5 420.1,775.1 420.1,774.2 421.0,773.9Z"/>
<path d="M753.9,523.3 752.3,523.9 751.3,522.5 751.7,521.1 753.5,521.7Z"/>
</g>
<g clip-path="url(#axclip)" fill="none" stroke="#000" stroke-linejoin="round" stroke-linecap="butt"><polyline stroke-width="2.1" points="929.3,145.3 938.0,195.5 936.4,233.5 933.6,274.0 932.0,299.9 915.9,339.5 897.2,383.1 881.6,401.8 866.0,417.4 856.6,421.2 845.0,421.6 818.9,422.9 808.3,415.4 786.0,393.4 780.5,399.0 818.5,436.1 801.7,455.2 789.8,445.9 794.2,440.1 752.4,405.1 749.4,408.4 764.4,423.1 769.7,420.4 788.4,438.4 776.4,450.7 773.4,450.4 766.0,457.9 712.0,413.0 730.0,396.8 735.2,397.2 738.2,402.4 740.4,401.7 737.5,396.2 739.7,394.2 731.5,386.0 718.0,384.8 721.7,390.2 705.2,405.4 692.5,391.2 710.5,375.8 715.7,377.0 718.7,373.2 718.7,368.7 742.7,359.7 717.2,367.7 691.7,374.7 688.0,379.2 685.0,380.0 675.1,377.4 669.1,367.8 661.9,365.4 649.9,367.8 646.3,365.4 629.6,369.0 621.2,371.9 612.8,372.6 608.7,383.4 609.2,391.8 609.9,398.0 602.6,400.3 594.6,403.7 582.0,412.9 579.3,418.6 574.0,427.7 568.3,439.1 564.9,450.6 555.7,454.0 546.6,459.7 535.1,470.0 532.2,478.0 535.1,480.3 531.3,481.9 537.4,488.7 535.1,493.3 526.0,497.0 524.9,504.3 528.3,511.1 535.1,521.4 535.8,536.3 531.7,551.1 519.1,553.4 515.3,559.1 515.7,567.1 523.7,572.9 535.1,579.7 538.3,590.0 536.0,600.0 528.6,607.5 527.3,615.0 536.0,626.2 534.8,632.4 521.1,635.4 519.3,648.7 523.6,656.1 521.1,661.1 523.6,667.4 516.8,676.1 516.8,693.6 494.9,721.1 462.4,742.3 430.0,768.5 417.5,783.5 417.0,809.7 413.0,824.6"/><line x1="717.2" y1="367.7" x2="742.7" y2="359.7" stroke-width="3.2"/></g>
<g>
<circle cx="581.5" cy="418.5" r="3.15" fill="#000" stroke="#fff" stroke-opacity="0.9" stroke-width="1.1"/>
<circle cx="626.5" cy="450.5" r="3.15" fill="#000" stroke="#fff" stroke-opacity="0.9" stroke-width="1.1"/>
<circle cx="577.5" cy="541.5" r="3.15" fill="#000" stroke="#fff" stroke-opacity="0.9" stroke-width="1.1"/>
<circle cx="524.5" cy="563.5" r="3.15" fill="#000" stroke="#fff" stroke-opacity="0.9" stroke-width="1.1"/>
<circle cx="806.5" cy="591.5" r="3.15" fill="#000" stroke="#fff" stroke-opacity="0.9" stroke-width="1.1"/>
<circle cx="643.5" cy="636.5" r="3.15" fill="#000" stroke="#fff" stroke-opacity="0.9" stroke-width="1.1"/>
<circle cx="665.5" cy="644.5" r="3.15" fill="#000" stroke="#fff" stroke-opacity="0.9" stroke-width="1.1"/>
<circle cx="681.5" cy="774.5" r="3.15" fill="#000" stroke="#fff" stroke-opacity="0.9" stroke-width="1.1"/>
<text x="588.6" y="418.2" font-size="11.3" font-weight="bold" fill="#fff" stroke="#000" stroke-width="2.6" stroke-linejoin="round" paint-order="stroke" textLength="83.3" lengthAdjust="spacingAndGlyphs">SHL: 295.8 m</text>
<text x="633.6" y="450.1" font-size="11.3" font-weight="bold" fill="#fff" stroke="#000" stroke-width="2.6" stroke-linejoin="round" paint-order="stroke" textLength="83.2" lengthAdjust="spacingAndGlyphs">SHT: 454.0 m</text>
<text x="584.4" y="541.1" font-size="11.3" font-weight="bold" fill="#fff" stroke="#000" stroke-width="2.6" stroke-linejoin="round" paint-order="stroke" textLength="82.3" lengthAdjust="spacingAndGlyphs">LHT: 398.1 m</text>
<text x="531.2" y="563.0" font-size="11.3" font-weight="bold" fill="#fff" stroke="#000" stroke-width="2.6" stroke-linejoin="round" paint-order="stroke" textLength="82.4" lengthAdjust="spacingAndGlyphs">LHL: 221.9 m</text>
<text x="813.2" y="591.2" font-size="11.3" font-weight="bold" fill="#fff" stroke="#000" stroke-width="2.6" stroke-linejoin="round" paint-order="stroke" textLength="84.4" lengthAdjust="spacingAndGlyphs">BTO: 523.4 m</text>
<text x="650.1" y="636.2" font-size="11.3" font-weight="bold" fill="#fff" stroke="#000" stroke-width="2.6" stroke-linejoin="round" paint-order="stroke" textLength="84.0" lengthAdjust="spacingAndGlyphs">GUT: 446.3 m</text>
<text x="672.4" y="664.8" font-size="11.3" font-weight="bold" fill="#fff" stroke="#000" stroke-width="2.6" stroke-linejoin="round" paint-order="stroke" textLength="84.5" lengthAdjust="spacingAndGlyphs">TMT: 419.1 m</text>
<text x="688.2" y="774.2" font-size="11.3" font-weight="bold" fill="#fff" stroke="#000" stroke-width="2.6" stroke-linejoin="round" paint-order="stroke" textLength="84.6" lengthAdjust="spacingAndGlyphs">OHT: 445.9 m</text>
</g>
<rect x="62.5" y="145.5" width="930.0" height="679.0" fill="none" stroke="#000" stroke-width="1.1"/>
<g>
<text x="512.0" y="21.0" font-size="14.31" text-anchor="middle" fill="#000" textLength="109.0" lengthAdjust="spacingAndGlyphs">Cu Potential [ft]</text>
<text x="512.0" y="37.0" font-size="14.31" text-anchor="middle" fill="#000" textLength="416.7" lengthAdjust="spacingAndGlyphs">Valid 1400 LST (1200Z) TUE 14 Oct 2025 [12hrFcst@0503z]</text>
<text x="512.0" y="53.1" font-size="14.31" text-anchor="middle" fill="#000" textLength="543.8" lengthAdjust="spacingAndGlyphs">FDV replot - DrJack BLIPMAP from RASP 1.3km GFSA-Initiated WRF-ARW model</text>
<text x="54.3" y="211.9" font-size="11.44" text-anchor="end" fill="#1a1a1a" textLength="43.3" lengthAdjust="spacingAndGlyphs">33.86°S</text>
<text x="54.3" y="299.8" font-size="11.44" text-anchor="end" fill="#1a1a1a" textLength="43.3" lengthAdjust="spacingAndGlyphs">33.88°S</text>
<text x="54.3" y="387.6" font-size="11.44" text-anchor="end" fill="#1a1a1a" textLength="36.4" lengthAdjust="spacingAndGlyphs">33.9°S</text>
<text x="54.3" y="475.4" font-size="11.44" text-anchor="end" fill="#1a1a1a" textLength="43.3" lengthAdjust="spacingAndGlyphs">33.92°S</text>
<text x="54.3" y="563.3" font-size="11.44" text-anchor="end" fill="#1a1a1a" textLength="43.3" lengthAdjust="spacingAndGlyphs">33.94°S</text>
<text x="54.3" y="651.1" font-size="11.44" text-anchor="end" fill="#1a1a1a" textLength="43.3" lengthAdjust="spacingAndGlyphs">33.96°S</text>
<text x="54.3" y="739.0" font-size="11.44" text-anchor="end" fill="#1a1a1a" textLength="43.3" lengthAdjust="spacingAndGlyphs">33.98°S</text>
<g transform="translate(79.1,833.8) rotate(-90)"><text x="0.0" y="0.0" font-size="11.44" text-anchor="end" fill="#1a1a1a" textLength="43.3" lengthAdjust="spacingAndGlyphs">18.25°E</text></g>
<g transform="translate(262.6,833.8) rotate(-90)"><text x="0.0" y="0.0" font-size="11.44" text-anchor="end" fill="#1a1a1a" textLength="36.4" lengthAdjust="spacingAndGlyphs">18.3°E</text></g>
<g transform="translate(446.1,833.8) rotate(-90)"><text x="0.0" y="0.0" font-size="11.44" text-anchor="end" fill="#1a1a1a" textLength="43.3" lengthAdjust="spacingAndGlyphs">18.35°E</text></g>
<g transform="translate(629.6,833.8) rotate(-90)"><text x="0.0" y="0.0" font-size="11.44" text-anchor="end" fill="#1a1a1a" textLength="36.4" lengthAdjust="spacingAndGlyphs">18.4°E</text></g>
<g transform="translate(813.1,833.8) rotate(-90)"><text x="0.0" y="0.0" font-size="11.44" text-anchor="end" fill="#1a1a1a" textLength="43.3" lengthAdjust="spacingAndGlyphs">18.45°E</text></g>
</g>
<g shape-rendering="crispEdges">
<rect x="155.55" y="879.55" width="23.85" height="29.65000000000009" fill="#0000e8"/>
<rect x="179.00" y="879.55" width="25.40" height="29.65000000000009" fill="#0026e8"/>
<rect x="204.00" y="879.55" width="25.40" height="29.65000000000009" fill="#005ae8"/>
<rect x="229.00" y="879.55" width="25.40" height="29.65000000000009" fill="#008ae8"/>
<rect x="254.00" y="879.55" width="25.40" height="29.65000000000009" fill="#00b2ec"/>
<rect x="279.00" y="879.55" width="24.40" height="29.65000000000009" fill="#00d8e8"/>
<rect x="303.00" y="879.55" width="25.40" height="29.65000000000009" fill="#00dece"/>
<rect x="328.00" y="879.55" width="25.40" height="29.65000000000009" fill="#00d6a8"/>
<rect x="353.00" y="879.55" width="25.40" height="29.65000000000009" fill="#00c880"/>
<rect x="378.00" y="879.55" width="25.40" height="29.65000000000009" fill="#00b850"/>
<rect x="403.00" y="879.55" width="24.40" height="29.65000000000009" fill="#00b02c"/>
<rect x="427.00" y="879.55" width="25.40" height="29.65000000000009" fill="#14ac0c"/>
<rect x="452.00" y="879.55" width="25.40" height="29.65000000000009" fill="#34b400"/>
<rect x="477.00" y="879.55" width="25.40" height="29.65000000000009" fill="#60c000"/>
<rect x="502.00" y="879.55" width="25.40" height="29.65000000000009" fill="#88cc00"/>
<rect x="527.00" y="879.55" width="24.40" height="29.65000000000009" fill="#b0d800"/>
<rect x="551.00" y="879.55" width="25.40" height="29.65000000000009" fill="#d2e000"/>
<rect x="576.00" y="879.55" width="25.40" height="29.65000000000009" fill="#e8de00"/>
<rect x="601.00" y="879.55" width="25.40" height="29.65000000000009" fill="#ecd200"/>
<rect x="626.00" y="879.55" width="25.40" height="29.65000000000009" fill="#ebc400"/>
<rect x="651.00" y="879.55" width="24.40" height="29.65000000000009" fill="#ebb500"/>
<rect x="675.00" y="879.55" width="25.40" height="29.65000000000009" fill="#e9a700"/>
<rect x="700.00" y="879.55" width="25.40" height="29.65000000000009" fill="#eb9300"/>
<rect x="725.00" y="879.55" width="25.40" height="29.65000000000009" fill="#ea7b00"/>
<rect x="750.00" y="879.55" width="25.40" height="29.65000000000009" fill="#eb5e00"/>
<rect x="775.00" y="879.55" width="24.40" height="29.65000000000009" fill="#ea4000"/>
<rect x="799.00" y="879.55" width="25.40" height="29.65000000000009" fill="#ec2000"/>
<rect x="824.00" y="879.55" width="25.40" height="29.65000000000009" fill="#e60e00"/>
<rect x="849.00" y="879.55" width="25.40" height="29.65000000000009" fill="#d8000a"/>
<rect x="874.00" y="879.55" width="25.85" height="29.65000000000009" fill="#c0001e"/>
</g>
<rect x="155.55" y="879.55" width="743.9000000000001" height="29.65000000000009" fill="none" stroke="#000" stroke-width="1.1"/>
<g stroke="#000" stroke-width="1.1">
<line x1="155.65" y1="909.2" x2="155.65" y2="914.1"/>
<line x1="179.50" y1="909.2" x2="179.50" y2="912.0"/>
<line x1="204.50" y1="909.2" x2="204.50" y2="914.1"/>
<line x1="229.50" y1="909.2" x2="229.50" y2="912.0"/>
<line x1="254.50" y1="909.2" x2="254.50" y2="914.1"/>
<line x1="279.50" y1="909.2" x2="279.50" y2="912.0"/>
<line x1="303.50" y1="909.2" x2="303.50" y2="914.1"/>
<line x1="328.50" y1="909.2" x2="328.50" y2="912.0"/>
<line x1="353.50" y1="909.2" x2="353.50" y2="914.1"/>
<line x1="378.50" y1="909.2" x2="378.50" y2="912.0"/>
<line x1="403.50" y1="909.2" x2="403.50" y2="914.1"/>
<line x1="427.50" y1="909.2" x2="427.50" y2="912.0"/>
<line x1="452.50" y1="909.2" x2="452.50" y2="914.1"/>
<line x1="477.50" y1="909.2" x2="477.50" y2="912.0"/>
<line x1="502.50" y1="909.2" x2="502.50" y2="914.1"/>
<line x1="527.50" y1="909.2" x2="527.50" y2="912.0"/>
<line x1="551.50" y1="909.2" x2="551.50" y2="914.1"/>
<line x1="576.50" y1="909.2" x2="576.50" y2="912.0"/>
<line x1="601.50" y1="909.2" x2="601.50" y2="914.1"/>
<line x1="626.50" y1="909.2" x2="626.50" y2="912.0"/>
<line x1="651.50" y1="909.2" x2="651.50" y2="914.1"/>
<line x1="675.50" y1="909.2" x2="675.50" y2="912.0"/>
<line x1="700.50" y1="909.2" x2="700.50" y2="914.1"/>
<line x1="725.50" y1="909.2" x2="725.50" y2="912.0"/>
<line x1="750.50" y1="909.2" x2="750.50" y2="914.1"/>
<line x1="775.50" y1="909.2" x2="775.50" y2="912.0"/>
<line x1="799.50" y1="909.2" x2="799.50" y2="914.1"/>
<line x1="824.50" y1="909.2" x2="824.50" y2="912.0"/>
<line x1="849.50" y1="909.2" x2="849.50" y2="914.1"/>
<line x1="874.50" y1="909.2" x2="874.50" y2="912.0"/>
<line x1="899.35" y1="909.2" x2="899.35" y2="914.1"/>
</g>
<text x="155.1" y="930.2" font-size="14.31" text-anchor="middle" fill="#000" textLength="46.9" lengthAdjust="spacingAndGlyphs">−3400</text>
<text x="204.7" y="930.2" font-size="14.31" text-anchor="middle" fill="#000" textLength="46.9" lengthAdjust="spacingAndGlyphs">−3000</text>
<text x="254.3" y="930.2" font-size="14.31" text-anchor="middle" fill="#000" textLength="46.9" lengthAdjust="spacingAndGlyphs">−2600</text>
<text x="303.9" y="930.2" font-size="14.31" text-anchor="middle" fill="#000" textLength="46.9" lengthAdjust="spacingAndGlyphs">−2200</text>
<text x="353.4" y="930.2" font-size="14.31" text-anchor="middle" fill="#000" textLength="46.9" lengthAdjust="spacingAndGlyphs">−1800</text>
<text x="403.0" y="930.2" font-size="14.31" text-anchor="middle" fill="#000" textLength="46.9" lengthAdjust="spacingAndGlyphs">−1400</text>
<text x="452.6" y="930.2" font-size="14.31" text-anchor="middle" fill="#000" textLength="46.9" lengthAdjust="spacingAndGlyphs">−1000</text>
<text x="502.2" y="930.2" font-size="14.31" text-anchor="middle" fill="#000" textLength="38.1" lengthAdjust="spacingAndGlyphs">−600</text>
<text x="551.9" y="930.2" font-size="14.31" text-anchor="middle" fill="#000" textLength="38.1" lengthAdjust="spacingAndGlyphs">−200</text>
<text x="601.5" y="930.2" font-size="14.31" text-anchor="middle" fill="#000" textLength="26.5" lengthAdjust="spacingAndGlyphs">200</text>
<text x="651.0" y="930.2" font-size="14.31" text-anchor="middle" fill="#000" textLength="26.5" lengthAdjust="spacingAndGlyphs">600</text>
<text x="700.6" y="930.2" font-size="14.31" text-anchor="middle" fill="#000" textLength="35.3" lengthAdjust="spacingAndGlyphs">1000</text>
<text x="750.2" y="930.2" font-size="14.31" text-anchor="middle" fill="#000" textLength="35.3" lengthAdjust="spacingAndGlyphs">1400</text>
<text x="799.9" y="930.2" font-size="14.31" text-anchor="middle" fill="#000" textLength="35.3" lengthAdjust="spacingAndGlyphs">1800</text>
<text x="849.4" y="930.2" font-size="14.31" text-anchor="middle" fill="#000" textLength="35.3" lengthAdjust="spacingAndGlyphs">2200</text>
<text x="899.0" y="930.2" font-size="14.31" text-anchor="middle" fill="#000" textLength="35.3" lengthAdjust="spacingAndGlyphs">2600</text>
<text x="527.5" y="949.3" font-size="14.31" text-anchor="middle" fill="#000" textLength="85.2" lengthAdjust="spacingAndGlyphs">zsfclcldif [ft]</text>
</svg></body></html>
